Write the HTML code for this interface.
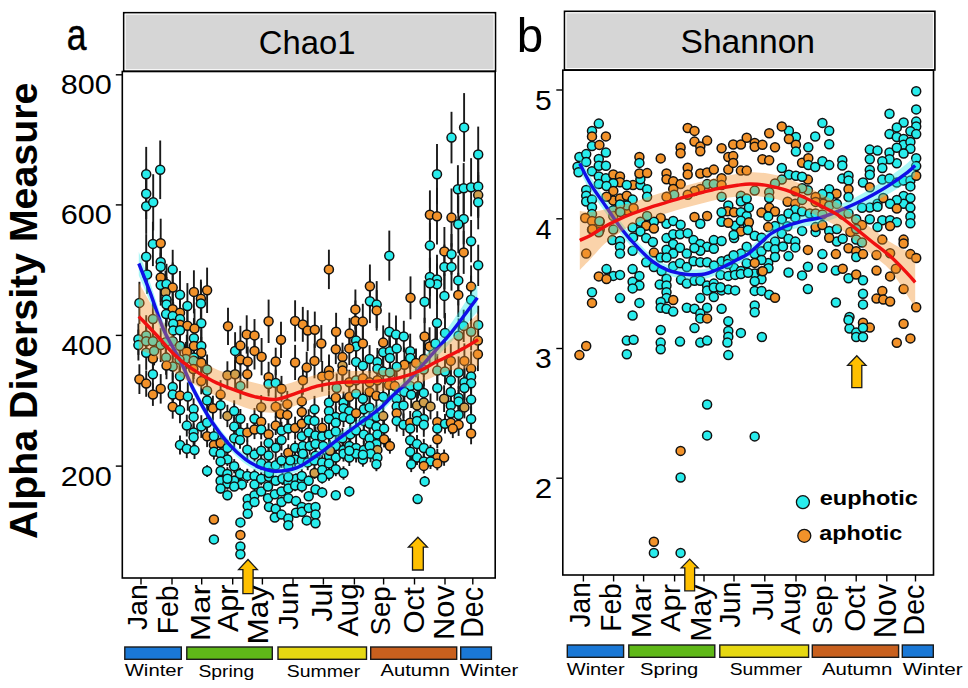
<!DOCTYPE html>
<html><head><meta charset="utf-8"><style>
html,body{margin:0;padding:0;background:#fff;}
svg{display:block;font-family:"Liberation Sans",sans-serif;}
</style></head><body>
<svg width="968" height="688" viewBox="0 0 968 688">
<rect width="968" height="688" fill="#fff"/>
<g stroke="#1a1a1a" stroke-width="1.9">
<line x1="152.9" y1="221.7" x2="152.9" y2="266.1"/>
<line x1="160.7" y1="218.7" x2="160.7" y2="267.6"/>
<line x1="146.2" y1="234.1" x2="146.2" y2="279.2"/>
<line x1="160.7" y1="238.0" x2="160.7" y2="285.8"/>
<line x1="160.7" y1="242.9" x2="160.7" y2="290.6"/>
<line x1="172.7" y1="249.8" x2="172.7" y2="289.5"/>
<line x1="147.1" y1="255.2" x2="147.1" y2="293.8"/>
<line x1="160.7" y1="252.7" x2="160.7" y2="302.1"/>
<line x1="160.7" y1="264.7" x2="160.7" y2="305.6"/>
<line x1="166.5" y1="263.8" x2="166.5" y2="304.5"/>
<line x1="172.7" y1="262.5" x2="172.7" y2="312.8"/>
<line x1="165.5" y1="270.8" x2="165.5" y2="313.8"/>
<line x1="180.0" y1="271.0" x2="180.0" y2="318.5"/>
<line x1="193.9" y1="270.3" x2="193.9" y2="313.4"/>
<line x1="207.1" y1="267.6" x2="207.1" y2="313.0"/>
<line x1="200.9" y1="279.6" x2="200.9" y2="317.7"/>
<line x1="200.9" y1="281.8" x2="200.9" y2="325.2"/>
<line x1="187.4" y1="283.1" x2="187.4" y2="328.9"/>
<line x1="139.4" y1="281.8" x2="139.4" y2="324.0"/>
<line x1="166.5" y1="276.9" x2="166.5" y2="322.3"/>
<line x1="166.5" y1="282.6" x2="166.5" y2="326.3"/>
<line x1="172.7" y1="291.6" x2="172.7" y2="327.0"/>
<line x1="180.0" y1="291.1" x2="180.0" y2="334.4"/>
<line x1="152.9" y1="298.9" x2="152.9" y2="339.0"/>
<line x1="166.1" y1="295.4" x2="166.1" y2="332.9"/>
<line x1="172.7" y1="299.0" x2="172.7" y2="333.1"/>
<line x1="180.0" y1="297.3" x2="180.0" y2="340.6"/>
<line x1="201.3" y1="304.2" x2="201.3" y2="342.2"/>
<line x1="180.0" y1="304.5" x2="180.0" y2="345.1"/>
<line x1="187.4" y1="304.6" x2="187.4" y2="346.9"/>
<line x1="194.5" y1="308.7" x2="194.5" y2="348.6"/>
<line x1="173.2" y1="302.2" x2="173.2" y2="345.3"/>
<line x1="173.2" y1="312.6" x2="173.2" y2="348.5"/>
<line x1="180.0" y1="309.9" x2="180.0" y2="350.4"/>
<line x1="228.0" y1="307.7" x2="228.0" y2="344.9"/>
<line x1="193.9" y1="318.1" x2="193.9" y2="358.5"/>
<line x1="146.2" y1="315.2" x2="146.2" y2="355.6"/>
<line x1="138.4" y1="323.6" x2="138.4" y2="354.9"/>
<line x1="138.4" y1="329.6" x2="138.4" y2="360.5"/>
<line x1="146.2" y1="325.0" x2="146.2" y2="357.4"/>
<line x1="152.9" y1="321.1" x2="152.9" y2="361.3"/>
<line x1="160.7" y1="328.1" x2="160.7" y2="362.1"/>
<line x1="172.7" y1="322.9" x2="172.7" y2="359.5"/>
<line x1="180.0" y1="329.8" x2="180.0" y2="362.2"/>
<line x1="193.9" y1="328.7" x2="193.9" y2="363.3"/>
<line x1="201.3" y1="329.4" x2="201.3" y2="362.7"/>
<line x1="201.3" y1="336.9" x2="201.3" y2="368.7"/>
<line x1="186.8" y1="334.7" x2="186.8" y2="369.0"/>
<line x1="146.2" y1="335.7" x2="146.2" y2="369.9"/>
<line x1="152.9" y1="340.5" x2="152.9" y2="376.7"/>
<line x1="166.1" y1="340.5" x2="166.1" y2="374.8"/>
<line x1="193.9" y1="339.3" x2="193.9" y2="376.0"/>
<line x1="235.1" y1="332.2" x2="235.1" y2="369.5"/>
<line x1="240.4" y1="325.8" x2="240.4" y2="365.5"/>
<line x1="246.7" y1="315.3" x2="246.7" y2="353.6"/>
<line x1="254.5" y1="319.1" x2="254.5" y2="351.7"/>
<line x1="254.5" y1="332.2" x2="254.5" y2="369.5"/>
<line x1="261.6" y1="338.0" x2="261.6" y2="375.3"/>
<line x1="268.6" y1="299.6" x2="268.6" y2="343.0"/>
<line x1="281.0" y1="321.7" x2="281.0" y2="358.0"/>
<line x1="295.1" y1="300.3" x2="295.1" y2="341.5"/>
<line x1="302.8" y1="306.9" x2="302.8" y2="341.8"/>
<line x1="307.7" y1="310.2" x2="307.7" y2="351.0"/>
<line x1="240.4" y1="343.1" x2="240.4" y2="376.0"/>
<line x1="247.7" y1="346.6" x2="247.7" y2="376.4"/>
<line x1="275.7" y1="347.7" x2="275.7" y2="375.3"/>
<line x1="295.1" y1="344.9" x2="295.1" y2="380.0"/>
<line x1="464.1" y1="93.1" x2="464.1" y2="161.7"/>
<line x1="451.5" y1="111.8" x2="451.5" y2="163.4"/>
<line x1="437.0" y1="144.1" x2="437.0" y2="204.3"/>
<line x1="478.2" y1="126.6" x2="478.2" y2="182.3"/>
<line x1="457.9" y1="165.2" x2="457.9" y2="213.3"/>
<line x1="463.7" y1="163.1" x2="463.7" y2="213.5"/>
<line x1="471.1" y1="158.2" x2="471.1" y2="216.4"/>
<line x1="478.2" y1="156.4" x2="478.2" y2="216.4"/>
<line x1="478.2" y1="172.1" x2="478.2" y2="218.0"/>
<line x1="478.2" y1="175.1" x2="478.2" y2="229.3"/>
<line x1="328.9" y1="249.7" x2="328.9" y2="289.1"/>
<line x1="389.3" y1="230.6" x2="389.3" y2="280.7"/>
<line x1="429.9" y1="190.4" x2="429.9" y2="238.9"/>
<line x1="437.0" y1="187.8" x2="437.0" y2="244.6"/>
<line x1="451.5" y1="188.5" x2="451.5" y2="246.7"/>
<line x1="463.7" y1="193.5" x2="463.7" y2="244.3"/>
<line x1="458.3" y1="195.5" x2="458.3" y2="253.2"/>
<line x1="429.9" y1="223.0" x2="429.9" y2="268.3"/>
<line x1="471.1" y1="220.0" x2="471.1" y2="262.3"/>
<line x1="444.4" y1="227.0" x2="444.4" y2="275.9"/>
<line x1="451.5" y1="234.0" x2="451.5" y2="274.6"/>
<line x1="463.7" y1="230.8" x2="463.7" y2="273.9"/>
<line x1="444.4" y1="244.6" x2="444.4" y2="289.2"/>
<line x1="451.5" y1="243.2" x2="451.5" y2="290.6"/>
<line x1="478.2" y1="244.7" x2="478.2" y2="286.0"/>
<line x1="429.9" y1="257.6" x2="429.9" y2="296.3"/>
<line x1="437.0" y1="254.7" x2="437.0" y2="304.2"/>
<line x1="437.0" y1="263.4" x2="437.0" y2="305.1"/>
<line x1="429.9" y1="258.1" x2="429.9" y2="308.5"/>
<line x1="458.3" y1="255.5" x2="458.3" y2="305.4"/>
<line x1="471.1" y1="265.4" x2="471.1" y2="307.8"/>
<line x1="369.9" y1="264.5" x2="369.9" y2="307.9"/>
<line x1="410.5" y1="276.4" x2="410.5" y2="319.3"/>
<line x1="444.4" y1="273.5" x2="444.4" y2="318.3"/>
<line x1="458.3" y1="272.8" x2="458.3" y2="317.1"/>
<line x1="424.6" y1="280.3" x2="424.6" y2="323.1"/>
<line x1="369.9" y1="279.5" x2="369.9" y2="323.1"/>
<line x1="376.7" y1="281.1" x2="376.7" y2="328.1"/>
<line x1="376.7" y1="290.1" x2="376.7" y2="330.7"/>
<line x1="355.4" y1="289.5" x2="355.4" y2="329.4"/>
<line x1="355.4" y1="300.4" x2="355.4" y2="341.7"/>
<line x1="362.8" y1="303.8" x2="362.8" y2="339.4"/>
<line x1="437.0" y1="304.9" x2="437.0" y2="341.0"/>
<line x1="471.1" y1="275.5" x2="471.1" y2="324.0"/>
<line x1="478.2" y1="305.7" x2="478.2" y2="344.1"/>
<line x1="471.1" y1="312.9" x2="471.1" y2="350.4"/>
<line x1="463.7" y1="309.7" x2="463.7" y2="342.0"/>
<line x1="314.8" y1="311.6" x2="314.8" y2="347.9"/>
<line x1="336.1" y1="312.8" x2="336.1" y2="350.6"/>
<line x1="349.6" y1="317.9" x2="349.6" y2="349.3"/>
<line x1="389.3" y1="312.6" x2="389.3" y2="350.8"/>
<line x1="396.0" y1="315.6" x2="396.0" y2="353.5"/>
<line x1="403.8" y1="320.8" x2="403.8" y2="352.2"/>
<line x1="424.6" y1="317.8" x2="424.6" y2="355.2"/>
<line x1="146.2" y1="146.9" x2="146.2" y2="201.5"/>
<line x1="160.2" y1="140.5" x2="160.2" y2="199.1"/>
<line x1="146.2" y1="168.4" x2="146.2" y2="219.2"/>
<line x1="146.2" y1="178.7" x2="146.2" y2="233.9"/>
<line x1="153.2" y1="174.2" x2="153.2" y2="230.4"/>
<line x1="172.7" y1="353.3" x2="172.7" y2="379.9"/>
<line x1="166.5" y1="352.1" x2="166.5" y2="379.2"/>
<line x1="185.8" y1="341.9" x2="185.8" y2="375.9"/>
<line x1="193.6" y1="342.6" x2="193.6" y2="379.0"/>
<line x1="201.3" y1="348.1" x2="201.3" y2="377.4"/>
<line x1="207.1" y1="354.5" x2="207.1" y2="384.6"/>
<line x1="306.7" y1="351.7" x2="306.7" y2="383.4"/>
<line x1="227.4" y1="361.3" x2="227.4" y2="389.3"/>
<line x1="235.1" y1="360.1" x2="235.1" y2="388.6"/>
<line x1="247.3" y1="360.3" x2="247.3" y2="388.3"/>
<line x1="240.4" y1="372.6" x2="240.4" y2="399.3"/>
<line x1="139.4" y1="364.3" x2="139.4" y2="394.0"/>
<line x1="146.2" y1="370.4" x2="146.2" y2="396.8"/>
<line x1="152.9" y1="360.0" x2="152.9" y2="388.6"/>
<line x1="160.7" y1="374.1" x2="160.7" y2="403.6"/>
<line x1="152.9" y1="383.4" x2="152.9" y2="405.9"/>
<line x1="172.7" y1="372.8" x2="172.7" y2="401.0"/>
<line x1="172.7" y1="380.6" x2="172.7" y2="408.7"/>
<line x1="180.0" y1="362.4" x2="180.0" y2="390.1"/>
<line x1="180.0" y1="383.7" x2="180.0" y2="407.6"/>
<line x1="187.8" y1="382.4" x2="187.8" y2="410.7"/>
<line x1="201.3" y1="368.0" x2="201.3" y2="394.3"/>
<line x1="207.1" y1="378.6" x2="207.1" y2="403.0"/>
<line x1="207.1" y1="388.1" x2="207.1" y2="412.8"/>
<line x1="268.6" y1="361.8" x2="268.6" y2="392.7"/>
<line x1="268.6" y1="371.7" x2="268.6" y2="396.4"/>
<line x1="275.7" y1="369.7" x2="275.7" y2="396.4"/>
<line x1="281.5" y1="375.9" x2="281.5" y2="401.8"/>
<line x1="220.6" y1="380.2" x2="220.6" y2="409.1"/>
<line x1="172.7" y1="395.0" x2="172.7" y2="418.7"/>
<line x1="180.0" y1="397.1" x2="180.0" y2="423.2"/>
<line x1="193.6" y1="398.4" x2="193.6" y2="419.9"/>
<line x1="193.6" y1="406.2" x2="193.6" y2="427.6"/>
<line x1="212.9" y1="395.7" x2="212.9" y2="420.7"/>
<line x1="220.6" y1="391.7" x2="220.6" y2="418.9"/>
<line x1="227.4" y1="404.8" x2="227.4" y2="427.1"/>
<line x1="234.2" y1="400.3" x2="234.2" y2="421.8"/>
<line x1="240.4" y1="409.0" x2="240.4" y2="428.6"/>
<line x1="261.2" y1="395.1" x2="261.2" y2="419.4"/>
<line x1="275.7" y1="395.9" x2="275.7" y2="417.8"/>
<line x1="287.3" y1="390.9" x2="287.3" y2="417.7"/>
<line x1="301.8" y1="387.6" x2="301.8" y2="415.2"/>
<line x1="280.6" y1="403.6" x2="280.6" y2="424.4"/>
<line x1="287.3" y1="404.3" x2="287.3" y2="425.6"/>
<line x1="301.8" y1="399.3" x2="301.8" y2="424.8"/>
<line x1="186.8" y1="414.7" x2="186.8" y2="436.5"/>
<line x1="201.3" y1="415.2" x2="201.3" y2="437.9"/>
<line x1="207.1" y1="412.5" x2="207.1" y2="432.9"/>
<line x1="193.6" y1="423.5" x2="193.6" y2="441.2"/>
<line x1="234.2" y1="416.8" x2="234.2" y2="436.3"/>
<line x1="240.4" y1="421.6" x2="240.4" y2="443.1"/>
<line x1="247.3" y1="423.1" x2="247.3" y2="441.6"/>
<line x1="254.5" y1="419.8" x2="254.5" y2="439.1"/>
<line x1="254.5" y1="408.0" x2="254.5" y2="429.6"/>
<line x1="261.2" y1="411.2" x2="261.2" y2="432.3"/>
<line x1="261.2" y1="419.6" x2="261.2" y2="439.3"/>
<line x1="268.6" y1="423.3" x2="268.6" y2="445.3"/>
<line x1="275.7" y1="416.2" x2="275.7" y2="435.0"/>
<line x1="281.5" y1="421.8" x2="281.5" y2="439.0"/>
<line x1="288.3" y1="416.9" x2="288.3" y2="440.1"/>
<line x1="295.1" y1="416.7" x2="295.1" y2="439.5"/>
<line x1="301.8" y1="411.4" x2="301.8" y2="435.9"/>
<line x1="301.8" y1="426.8" x2="301.8" y2="445.6"/>
<line x1="207.1" y1="425.3" x2="207.1" y2="447.1"/>
<line x1="193.6" y1="426.5" x2="193.6" y2="447.9"/>
<line x1="213.9" y1="427.4" x2="213.9" y2="445.0"/>
<line x1="180.0" y1="435.4" x2="180.0" y2="454.4"/>
<line x1="186.8" y1="439.4" x2="186.8" y2="458.2"/>
<line x1="194.5" y1="441.3" x2="194.5" y2="459.0"/>
<line x1="213.9" y1="436.0" x2="213.9" y2="453.8"/>
<line x1="220.6" y1="434.6" x2="220.6" y2="451.4"/>
<line x1="213.9" y1="443.8" x2="213.9" y2="459.6"/>
<line x1="220.6" y1="446.2" x2="220.6" y2="461.1"/>
<line x1="227.4" y1="452.8" x2="227.4" y2="466.1"/>
<line x1="234.2" y1="428.5" x2="234.2" y2="447.8"/>
<line x1="240.0" y1="431.4" x2="240.0" y2="448.8"/>
<line x1="247.3" y1="440.5" x2="247.3" y2="459.0"/>
<line x1="254.5" y1="447.7" x2="254.5" y2="461.5"/>
<line x1="261.2" y1="441.4" x2="261.2" y2="460.1"/>
<line x1="268.6" y1="433.5" x2="268.6" y2="452.5"/>
<line x1="268.6" y1="446.6" x2="268.6" y2="464.5"/>
<line x1="275.7" y1="438.2" x2="275.7" y2="457.4"/>
<line x1="281.5" y1="429.7" x2="281.5" y2="450.5"/>
<line x1="288.3" y1="444.3" x2="288.3" y2="461.0"/>
<line x1="295.1" y1="440.5" x2="295.1" y2="455.2"/>
<line x1="301.8" y1="441.8" x2="301.8" y2="459.7"/>
<line x1="207.1" y1="465.1" x2="207.1" y2="477.0"/>
<line x1="220.6" y1="464.8" x2="220.6" y2="477.3"/>
<line x1="227.4" y1="467.2" x2="227.4" y2="480.6"/>
<line x1="234.2" y1="459.1" x2="234.2" y2="473.3"/>
<line x1="240.0" y1="467.7" x2="240.0" y2="480.1"/>
<line x1="247.3" y1="468.8" x2="247.3" y2="482.9"/>
<line x1="254.5" y1="469.4" x2="254.5" y2="482.3"/>
<line x1="261.2" y1="456.4" x2="261.2" y2="470.2"/>
<line x1="268.6" y1="459.7" x2="268.6" y2="472.7"/>
<line x1="275.7" y1="457.3" x2="275.7" y2="473.1"/>
<line x1="281.5" y1="452.9" x2="281.5" y2="467.9"/>
<line x1="288.3" y1="458.6" x2="288.3" y2="473.8"/>
<line x1="295.1" y1="452.2" x2="295.1" y2="466.7"/>
<line x1="301.8" y1="453.6" x2="301.8" y2="467.2"/>
<line x1="220.6" y1="474.8" x2="220.6" y2="486.6"/>
<line x1="227.4" y1="477.5" x2="227.4" y2="489.7"/>
<line x1="234.2" y1="475.5" x2="234.2" y2="485.9"/>
<line x1="241.9" y1="478.6" x2="241.9" y2="490.5"/>
<line x1="254.5" y1="478.4" x2="254.5" y2="490.7"/>
<line x1="261.2" y1="472.3" x2="261.2" y2="485.3"/>
<line x1="269.0" y1="470.1" x2="269.0" y2="483.6"/>
<line x1="275.7" y1="475.8" x2="275.7" y2="485.6"/>
<line x1="282.5" y1="472.6" x2="282.5" y2="485.0"/>
<line x1="288.3" y1="476.4" x2="288.3" y2="488.9"/>
<line x1="296.0" y1="473.6" x2="296.0" y2="483.9"/>
<line x1="301.8" y1="475.3" x2="301.8" y2="486.1"/>
<line x1="227.4" y1="439.9" x2="227.4" y2="455.9"/>
<line x1="220.6" y1="453.9" x2="220.6" y2="468.9"/>
<line x1="227.4" y1="473.0" x2="227.4" y2="484.7"/>
<line x1="220.6" y1="483.4" x2="220.6" y2="493.6"/>
<line x1="227.4" y1="490.3" x2="227.4" y2="500.2"/>
<line x1="234.2" y1="482.1" x2="234.2" y2="491.1"/>
<line x1="247.7" y1="495.5" x2="247.7" y2="502.8"/>
<line x1="254.5" y1="491.2" x2="254.5" y2="499.3"/>
<line x1="261.2" y1="487.1" x2="261.2" y2="495.8"/>
<line x1="268.0" y1="482.0" x2="268.0" y2="491.2"/>
<line x1="247.7" y1="501.7" x2="247.7" y2="510.1"/>
<line x1="247.7" y1="510.3" x2="247.7" y2="517.0"/>
<line x1="254.5" y1="498.6" x2="254.5" y2="505.5"/>
<line x1="268.0" y1="493.9" x2="268.0" y2="502.5"/>
<line x1="274.8" y1="489.9" x2="274.8" y2="498.7"/>
<line x1="281.5" y1="486.8" x2="281.5" y2="496.0"/>
<line x1="288.3" y1="483.6" x2="288.3" y2="493.4"/>
<line x1="295.1" y1="480.0" x2="295.1" y2="491.2"/>
<line x1="269.0" y1="503.2" x2="269.0" y2="510.6"/>
<line x1="275.7" y1="505.5" x2="275.7" y2="512.1"/>
<line x1="281.5" y1="498.4" x2="281.5" y2="505.7"/>
<line x1="288.3" y1="494.1" x2="288.3" y2="502.3"/>
<line x1="296.0" y1="497.5" x2="296.0" y2="504.7"/>
<line x1="301.8" y1="503.2" x2="301.8" y2="510.5"/>
<line x1="269.0" y1="466.0" x2="269.0" y2="480.0"/>
<line x1="288.3" y1="471.0" x2="288.3" y2="482.8"/>
<line x1="301.8" y1="469.2" x2="301.8" y2="482.7"/>
<line x1="290.2" y1="452.7" x2="290.2" y2="468.3"/>
<line x1="356.1" y1="323.1" x2="356.1" y2="358.1"/>
<line x1="356.1" y1="330.5" x2="356.1" y2="362.3"/>
<line x1="362.9" y1="325.9" x2="362.9" y2="361.2"/>
<line x1="321.3" y1="325.1" x2="321.3" y2="362.0"/>
<line x1="335.8" y1="334.6" x2="335.8" y2="364.1"/>
<line x1="349.3" y1="331.7" x2="349.3" y2="365.0"/>
<line x1="383.2" y1="325.4" x2="383.2" y2="359.7"/>
<line x1="429.6" y1="327.3" x2="429.6" y2="365.6"/>
<line x1="435.4" y1="323.8" x2="435.4" y2="363.3"/>
<line x1="458.6" y1="318.4" x2="458.6" y2="353.2"/>
<line x1="477.9" y1="320.8" x2="477.9" y2="360.5"/>
<line x1="445.0" y1="312.9" x2="445.0" y2="352.9"/>
<line x1="383.2" y1="336.7" x2="383.2" y2="367.8"/>
<line x1="389.9" y1="334.7" x2="389.9" y2="367.9"/>
<line x1="396.7" y1="333.3" x2="396.7" y2="363.5"/>
<line x1="389.9" y1="340.3" x2="389.9" y2="375.8"/>
<line x1="410.2" y1="333.7" x2="410.2" y2="368.9"/>
<line x1="410.2" y1="339.9" x2="410.2" y2="376.2"/>
<line x1="314.5" y1="343.6" x2="314.5" y2="378.3"/>
<line x1="322.2" y1="361.0" x2="322.2" y2="391.8"/>
<line x1="329.0" y1="354.4" x2="329.0" y2="386.8"/>
<line x1="329.0" y1="360.4" x2="329.0" y2="390.5"/>
<line x1="342.5" y1="342.7" x2="342.5" y2="371.4"/>
<line x1="342.5" y1="349.8" x2="342.5" y2="381.8"/>
<line x1="342.5" y1="357.7" x2="342.5" y2="383.5"/>
<line x1="356.1" y1="347.7" x2="356.1" y2="376.1"/>
<line x1="362.9" y1="348.9" x2="362.9" y2="382.6"/>
<line x1="369.6" y1="345.1" x2="369.6" y2="372.9"/>
<line x1="377.4" y1="348.0" x2="377.4" y2="375.9"/>
<line x1="377.4" y1="355.2" x2="377.4" y2="382.2"/>
<line x1="404.4" y1="347.4" x2="404.4" y2="382.2"/>
<line x1="416.0" y1="348.6" x2="416.0" y2="377.2"/>
<line x1="396.7" y1="353.5" x2="396.7" y2="380.0"/>
<line x1="383.2" y1="355.0" x2="383.2" y2="388.2"/>
<line x1="389.9" y1="359.3" x2="389.9" y2="385.8"/>
<line x1="423.8" y1="341.2" x2="423.8" y2="376.8"/>
<line x1="450.8" y1="344.1" x2="450.8" y2="377.8"/>
<line x1="464.4" y1="343.4" x2="464.4" y2="378.5"/>
<line x1="471.1" y1="351.3" x2="471.1" y2="386.1"/>
<line x1="477.9" y1="337.2" x2="477.9" y2="371.1"/>
<line x1="437.3" y1="354.1" x2="437.3" y2="387.1"/>
<line x1="445.0" y1="358.6" x2="445.0" y2="384.6"/>
<line x1="423.8" y1="353.2" x2="423.8" y2="386.1"/>
<line x1="302.9" y1="365.9" x2="302.9" y2="394.7"/>
<line x1="336.7" y1="373.5" x2="336.7" y2="402.6"/>
<line x1="349.3" y1="369.7" x2="349.3" y2="394.7"/>
<line x1="356.1" y1="364.9" x2="356.1" y2="395.7"/>
<line x1="362.9" y1="362.0" x2="362.9" y2="394.7"/>
<line x1="369.6" y1="369.9" x2="369.6" y2="394.5"/>
<line x1="377.4" y1="366.7" x2="377.4" y2="393.9"/>
<line x1="389.0" y1="370.9" x2="389.0" y2="399.3"/>
<line x1="394.8" y1="370.9" x2="394.8" y2="401.3"/>
<line x1="410.2" y1="373.3" x2="410.2" y2="398.9"/>
<line x1="418.0" y1="373.6" x2="418.0" y2="398.6"/>
<line x1="437.3" y1="375.4" x2="437.3" y2="400.7"/>
<line x1="450.8" y1="365.4" x2="450.8" y2="395.1"/>
<line x1="458.6" y1="356.4" x2="458.6" y2="388.7"/>
<line x1="464.4" y1="368.5" x2="464.4" y2="395.9"/>
<line x1="471.1" y1="362.3" x2="471.1" y2="390.5"/>
<line x1="471.1" y1="369.5" x2="471.1" y2="396.8"/>
<line x1="329.0" y1="390.6" x2="329.0" y2="414.4"/>
<line x1="335.8" y1="385.1" x2="335.8" y2="410.2"/>
<line x1="343.5" y1="391.6" x2="343.5" y2="413.4"/>
<line x1="349.3" y1="383.8" x2="349.3" y2="409.7"/>
<line x1="356.1" y1="378.8" x2="356.1" y2="408.9"/>
<line x1="362.9" y1="386.2" x2="362.9" y2="411.1"/>
<line x1="369.6" y1="377.5" x2="369.6" y2="406.2"/>
<line x1="376.4" y1="384.1" x2="376.4" y2="407.4"/>
<line x1="383.2" y1="383.0" x2="383.2" y2="410.4"/>
<line x1="396.7" y1="384.9" x2="396.7" y2="412.4"/>
<line x1="404.4" y1="377.8" x2="404.4" y2="405.9"/>
<line x1="411.2" y1="381.6" x2="411.2" y2="408.0"/>
<line x1="423.8" y1="379.6" x2="423.8" y2="406.1"/>
<line x1="444.1" y1="385.3" x2="444.1" y2="412.0"/>
<line x1="450.8" y1="376.9" x2="450.8" y2="406.8"/>
<line x1="458.6" y1="386.2" x2="458.6" y2="409.2"/>
<line x1="464.4" y1="376.0" x2="464.4" y2="400.0"/>
<line x1="471.1" y1="386.0" x2="471.1" y2="413.3"/>
<line x1="314.5" y1="395.9" x2="314.5" y2="422.6"/>
<line x1="329.0" y1="399.5" x2="329.0" y2="423.0"/>
<line x1="335.8" y1="406.0" x2="335.8" y2="428.0"/>
<line x1="343.5" y1="395.6" x2="343.5" y2="421.1"/>
<line x1="349.3" y1="400.6" x2="349.3" y2="421.8"/>
<line x1="363.8" y1="398.2" x2="363.8" y2="420.3"/>
<line x1="369.6" y1="396.4" x2="369.6" y2="418.3"/>
<line x1="376.4" y1="405.5" x2="376.4" y2="428.5"/>
<line x1="383.2" y1="405.4" x2="383.2" y2="426.7"/>
<line x1="396.7" y1="395.2" x2="396.7" y2="417.5"/>
<line x1="403.5" y1="392.5" x2="403.5" y2="418.3"/>
<line x1="417.0" y1="391.6" x2="417.0" y2="419.3"/>
<line x1="423.8" y1="390.8" x2="423.8" y2="414.2"/>
<line x1="430.5" y1="393.5" x2="430.5" y2="419.3"/>
<line x1="417.0" y1="404.0" x2="417.0" y2="426.2"/>
<line x1="423.8" y1="406.7" x2="423.8" y2="431.2"/>
<line x1="450.8" y1="392.9" x2="450.8" y2="417.9"/>
<line x1="458.6" y1="389.9" x2="458.6" y2="413.2"/>
<line x1="464.4" y1="396.3" x2="464.4" y2="418.4"/>
<line x1="450.8" y1="403.3" x2="450.8" y2="423.0"/>
<line x1="458.6" y1="403.8" x2="458.6" y2="426.4"/>
<line x1="308.7" y1="409.3" x2="308.7" y2="430.5"/>
<line x1="314.5" y1="411.1" x2="314.5" y2="430.7"/>
<line x1="322.2" y1="417.8" x2="322.2" y2="437.5"/>
<line x1="329.0" y1="408.5" x2="329.0" y2="429.4"/>
<line x1="335.8" y1="411.2" x2="335.8" y2="434.4"/>
<line x1="343.5" y1="407.0" x2="343.5" y2="427.0"/>
<line x1="350.3" y1="406.3" x2="350.3" y2="431.6"/>
<line x1="356.1" y1="401.7" x2="356.1" y2="424.6"/>
<line x1="363.8" y1="409.7" x2="363.8" y2="432.1"/>
<line x1="369.6" y1="413.3" x2="369.6" y2="434.3"/>
<line x1="376.4" y1="415.3" x2="376.4" y2="438.1"/>
<line x1="384.1" y1="417.4" x2="384.1" y2="439.8"/>
<line x1="396.7" y1="401.4" x2="396.7" y2="424.9"/>
<line x1="396.7" y1="410.1" x2="396.7" y2="431.7"/>
<line x1="403.5" y1="413.5" x2="403.5" y2="436.0"/>
<line x1="410.2" y1="411.0" x2="410.2" y2="434.7"/>
<line x1="410.2" y1="418.7" x2="410.2" y2="438.5"/>
<line x1="417.0" y1="409.2" x2="417.0" y2="432.5"/>
<line x1="423.8" y1="412.7" x2="423.8" y2="436.8"/>
<line x1="437.3" y1="411.2" x2="437.3" y2="432.6"/>
<line x1="437.3" y1="419.2" x2="437.3" y2="438.0"/>
<line x1="445.0" y1="414.0" x2="445.0" y2="433.6"/>
<line x1="450.8" y1="411.4" x2="450.8" y2="434.2"/>
<line x1="458.6" y1="413.6" x2="458.6" y2="435.9"/>
<line x1="471.1" y1="406.4" x2="471.1" y2="431.5"/>
<line x1="471.1" y1="422.6" x2="471.1" y2="444.3"/>
<line x1="452.8" y1="419.2" x2="452.8" y2="438.1"/>
<line x1="308.7" y1="423.5" x2="308.7" y2="441.5"/>
<line x1="315.5" y1="426.4" x2="315.5" y2="444.3"/>
<line x1="322.2" y1="427.7" x2="322.2" y2="445.0"/>
<line x1="329.0" y1="424.1" x2="329.0" y2="444.8"/>
<line x1="335.8" y1="420.5" x2="335.8" y2="442.6"/>
<line x1="342.5" y1="427.8" x2="342.5" y2="448.8"/>
<line x1="350.3" y1="425.4" x2="350.3" y2="443.4"/>
<line x1="356.1" y1="419.4" x2="356.1" y2="441.7"/>
<line x1="363.8" y1="425.2" x2="363.8" y2="443.6"/>
<line x1="369.6" y1="429.1" x2="369.6" y2="447.5"/>
<line x1="377.4" y1="424.0" x2="377.4" y2="444.8"/>
<line x1="384.1" y1="431.1" x2="384.1" y2="447.4"/>
<line x1="389.9" y1="438.4" x2="389.9" y2="453.7"/>
<line x1="376.4" y1="434.3" x2="376.4" y2="453.9"/>
<line x1="377.4" y1="442.0" x2="377.4" y2="457.8"/>
<line x1="410.2" y1="431.4" x2="410.2" y2="449.1"/>
<line x1="417.0" y1="435.0" x2="417.0" y2="453.2"/>
<line x1="423.8" y1="438.9" x2="423.8" y2="457.0"/>
<line x1="430.5" y1="444.8" x2="430.5" y2="458.9"/>
<line x1="437.3" y1="430.4" x2="437.3" y2="448.1"/>
<line x1="302.9" y1="437.5" x2="302.9" y2="454.6"/>
<line x1="309.7" y1="437.3" x2="309.7" y2="454.7"/>
<line x1="315.5" y1="436.0" x2="315.5" y2="452.2"/>
<line x1="323.2" y1="437.1" x2="323.2" y2="455.0"/>
<line x1="330.0" y1="440.3" x2="330.0" y2="459.5"/>
<line x1="335.8" y1="437.6" x2="335.8" y2="454.5"/>
<line x1="343.5" y1="441.4" x2="343.5" y2="458.4"/>
<line x1="349.3" y1="438.3" x2="349.3" y2="453.8"/>
<line x1="356.1" y1="440.0" x2="356.1" y2="456.0"/>
<line x1="363.8" y1="441.1" x2="363.8" y2="458.7"/>
<line x1="369.6" y1="438.3" x2="369.6" y2="453.8"/>
<line x1="302.9" y1="444.7" x2="302.9" y2="462.8"/>
<line x1="315.5" y1="446.8" x2="315.5" y2="464.6"/>
<line x1="329.0" y1="448.7" x2="329.0" y2="462.7"/>
<line x1="335.8" y1="448.8" x2="335.8" y2="466.4"/>
<line x1="343.5" y1="446.0" x2="343.5" y2="461.6"/>
<line x1="349.3" y1="449.2" x2="349.3" y2="466.0"/>
<line x1="356.1" y1="445.1" x2="356.1" y2="462.5"/>
<line x1="362.9" y1="452.4" x2="362.9" y2="466.7"/>
<line x1="370.6" y1="445.3" x2="370.6" y2="462.3"/>
<line x1="377.4" y1="449.5" x2="377.4" y2="465.8"/>
<line x1="410.2" y1="442.8" x2="410.2" y2="460.8"/>
<line x1="417.0" y1="450.4" x2="417.0" y2="464.9"/>
<line x1="423.8" y1="453.5" x2="423.8" y2="469.5"/>
<line x1="437.3" y1="448.8" x2="437.3" y2="466.5"/>
<line x1="444.1" y1="449.5" x2="444.1" y2="465.8"/>
<line x1="330.0" y1="442.4" x2="330.0" y2="459.2"/>
<line x1="349.3" y1="443.4" x2="349.3" y2="458.2"/>
<line x1="362.9" y1="446.7" x2="362.9" y2="462.7"/>
<line x1="376.4" y1="457.5" x2="376.4" y2="471.2"/>
<line x1="307.7" y1="454.6" x2="307.7" y2="470.2"/>
<line x1="314.5" y1="452.5" x2="314.5" y2="468.4"/>
<line x1="322.2" y1="454.9" x2="322.2" y2="469.9"/>
<line x1="329.0" y1="456.8" x2="329.0" y2="470.0"/>
<line x1="335.8" y1="462.1" x2="335.8" y2="476.2"/>
<line x1="343.5" y1="466.3" x2="343.5" y2="479.7"/>
<line x1="314.5" y1="467.2" x2="314.5" y2="478.9"/>
<line x1="322.2" y1="462.7" x2="322.2" y2="477.6"/>
<line x1="329.0" y1="467.3" x2="329.0" y2="480.7"/>
<line x1="308.7" y1="475.6" x2="308.7" y2="485.9"/>
<line x1="301.9" y1="480.6" x2="301.9" y2="492.6"/>
<line x1="315.5" y1="485.0" x2="315.5" y2="494.0"/>
<line x1="322.2" y1="472.1" x2="322.2" y2="483.6"/>
<line x1="322.2" y1="487.3" x2="322.2" y2="497.5"/>
<line x1="335.8" y1="490.6" x2="335.8" y2="500.0"/>
<line x1="349.3" y1="486.4" x2="349.3" y2="496.4"/>
<line x1="308.7" y1="491.6" x2="308.7" y2="500.9"/>
<line x1="301.9" y1="508.6" x2="301.9" y2="514.8"/>
<line x1="308.7" y1="504.6" x2="308.7" y2="511.1"/>
<line x1="315.5" y1="503.7" x2="315.5" y2="510.1"/>
<line x1="411.2" y1="456.6" x2="411.2" y2="472.1"/>
<line x1="430.5" y1="453.9" x2="430.5" y2="469.0"/>
<line x1="423.8" y1="458.3" x2="423.8" y2="473.5"/>
<line x1="437.3" y1="456.4" x2="437.3" y2="470.3"/>
<line x1="424.7" y1="476.0" x2="424.7" y2="486.7"/>
<line x1="417.6" y1="495.1" x2="417.6" y2="503.2"/>
<line x1="165.7" y1="322.6" x2="165.7" y2="361.7"/>
<line x1="154.1" y1="336.3" x2="154.1" y2="365.4"/>
<line x1="179.5" y1="343.5" x2="179.5" y2="375.7"/>
<line x1="193.3" y1="354.9" x2="193.3" y2="383.2"/>
</g>
<g stroke="#111" stroke-width="1.5">
<circle cx="152.9" cy="243.9" r="4.5" fill="#28ecec"/>
<circle cx="160.7" cy="243.2" r="4.5" fill="#f2922a"/>
<circle cx="146.2" cy="256.7" r="4.5" fill="#28ecec"/>
<circle cx="160.7" cy="261.9" r="4.5" fill="#28ecec"/>
<circle cx="160.7" cy="266.7" r="4.5" fill="#28ecec"/>
<circle cx="172.7" cy="269.6" r="4.5" fill="#28ecec"/>
<circle cx="147.1" cy="274.5" r="4.5" fill="#28ecec"/>
<circle cx="160.7" cy="277.4" r="4.5" fill="#f2922a"/>
<circle cx="160.7" cy="285.1" r="4.5" fill="#28ecec"/>
<circle cx="166.5" cy="284.1" r="4.5" fill="#28ecec"/>
<circle cx="172.7" cy="287.6" r="4.5" fill="#f2922a"/>
<circle cx="165.5" cy="292.3" r="4.5" fill="#d0a04c"/>
<circle cx="180.0" cy="294.8" r="4.5" fill="#28ecec"/>
<circle cx="193.9" cy="291.9" r="4.5" fill="#f2922a"/>
<circle cx="207.1" cy="290.3" r="4.5" fill="#f2922a"/>
<circle cx="200.9" cy="298.7" r="4.5" fill="#f2922a"/>
<circle cx="200.9" cy="303.5" r="4.5" fill="#28ecec"/>
<circle cx="187.4" cy="306.0" r="4.5" fill="#28ecec"/>
<circle cx="139.4" cy="302.9" r="4.5" fill="#28ecec"/>
<circle cx="166.5" cy="299.6" r="4.5" fill="#28ecec"/>
<circle cx="166.5" cy="304.5" r="4.5" fill="#28ecec"/>
<circle cx="172.7" cy="309.3" r="4.5" fill="#f2922a"/>
<circle cx="180.0" cy="312.8" r="4.5" fill="#f2922a"/>
<circle cx="152.9" cy="319.0" r="4.5" fill="#28ecec"/>
<circle cx="166.1" cy="314.1" r="4.5" fill="#28ecec"/>
<circle cx="172.7" cy="316.1" r="4.5" fill="#28ecec"/>
<circle cx="180.0" cy="319.0" r="4.5" fill="#28ecec"/>
<circle cx="201.3" cy="323.2" r="4.5" fill="#28ecec"/>
<circle cx="180.0" cy="324.8" r="4.5" fill="#f2922a"/>
<circle cx="187.4" cy="325.7" r="4.5" fill="#f2922a"/>
<circle cx="194.5" cy="328.6" r="4.5" fill="#f2922a"/>
<circle cx="173.2" cy="323.8" r="4.5" fill="#28ecec"/>
<circle cx="173.2" cy="330.6" r="4.5" fill="#28ecec"/>
<circle cx="180.0" cy="330.2" r="4.5" fill="#28ecec"/>
<circle cx="228.0" cy="326.3" r="4.5" fill="#f2922a"/>
<circle cx="193.9" cy="338.3" r="4.5" fill="#28ecec"/>
<circle cx="146.2" cy="335.4" r="4.5" fill="#28ecec"/>
<circle cx="138.4" cy="339.3" r="4.5" fill="#28ecec"/>
<circle cx="138.4" cy="345.1" r="4.5" fill="#28ecec"/>
<circle cx="146.2" cy="341.2" r="4.5" fill="#28ecec"/>
<circle cx="152.9" cy="341.2" r="4.5" fill="#28ecec"/>
<circle cx="160.7" cy="345.1" r="4.5" fill="#28ecec"/>
<circle cx="172.7" cy="341.2" r="4.5" fill="#28ecec"/>
<circle cx="180.0" cy="346.0" r="4.5" fill="#28ecec"/>
<circle cx="193.9" cy="346.0" r="4.5" fill="#f2922a"/>
<circle cx="201.3" cy="346.0" r="4.5" fill="#28ecec"/>
<circle cx="201.3" cy="352.8" r="4.5" fill="#f2922a"/>
<circle cx="186.8" cy="351.8" r="4.5" fill="#f2922a"/>
<circle cx="146.2" cy="352.8" r="4.5" fill="#28ecec"/>
<circle cx="152.9" cy="358.6" r="4.5" fill="#f2922a"/>
<circle cx="166.1" cy="357.6" r="4.5" fill="#28ecec"/>
<circle cx="193.9" cy="357.6" r="4.5" fill="#28ecec"/>
<circle cx="235.1" cy="350.9" r="4.5" fill="#28ecec"/>
<circle cx="240.4" cy="345.6" r="4.5" fill="#f2922a"/>
<circle cx="246.7" cy="334.4" r="4.5" fill="#f2922a"/>
<circle cx="254.5" cy="335.4" r="4.5" fill="#f2922a"/>
<circle cx="254.5" cy="350.9" r="4.5" fill="#f2922a"/>
<circle cx="261.6" cy="356.7" r="4.5" fill="#f2922a"/>
<circle cx="268.6" cy="321.3" r="4.5" fill="#f2922a"/>
<circle cx="281.0" cy="339.8" r="4.5" fill="#f2922a"/>
<circle cx="295.1" cy="320.9" r="4.5" fill="#f2922a"/>
<circle cx="302.8" cy="324.4" r="4.5" fill="#f2922a"/>
<circle cx="307.7" cy="330.6" r="4.5" fill="#f2922a"/>
<circle cx="240.4" cy="359.6" r="4.5" fill="#f2922a"/>
<circle cx="247.7" cy="361.5" r="4.5" fill="#f2922a"/>
<circle cx="275.7" cy="361.5" r="4.5" fill="#f2922a"/>
<circle cx="295.1" cy="362.5" r="4.5" fill="#f2922a"/>
<circle cx="464.1" cy="127.4" r="4.5" fill="#28ecec"/>
<circle cx="451.5" cy="137.6" r="4.5" fill="#28ecec"/>
<circle cx="437.0" cy="174.2" r="4.5" fill="#28ecec"/>
<circle cx="478.2" cy="154.5" r="4.5" fill="#28ecec"/>
<circle cx="457.9" cy="189.3" r="4.5" fill="#28ecec"/>
<circle cx="463.7" cy="188.3" r="4.5" fill="#28ecec"/>
<circle cx="471.1" cy="187.3" r="4.5" fill="#28ecec"/>
<circle cx="478.2" cy="186.4" r="4.5" fill="#28ecec"/>
<circle cx="478.2" cy="195.1" r="4.5" fill="#d0a04c"/>
<circle cx="478.2" cy="202.2" r="4.5" fill="#28ecec"/>
<circle cx="328.9" cy="269.4" r="4.5" fill="#f2922a"/>
<circle cx="389.3" cy="255.7" r="4.5" fill="#28ecec"/>
<circle cx="429.9" cy="214.7" r="4.5" fill="#f2922a"/>
<circle cx="437.0" cy="216.2" r="4.5" fill="#f2922a"/>
<circle cx="451.5" cy="217.6" r="4.5" fill="#f2922a"/>
<circle cx="463.7" cy="218.9" r="4.5" fill="#28ecec"/>
<circle cx="458.3" cy="224.3" r="4.5" fill="#28ecec"/>
<circle cx="429.9" cy="245.6" r="4.5" fill="#28ecec"/>
<circle cx="471.1" cy="241.2" r="4.5" fill="#28ecec"/>
<circle cx="444.4" cy="251.4" r="4.5" fill="#f2922a"/>
<circle cx="451.5" cy="254.3" r="4.5" fill="#28ecec"/>
<circle cx="463.7" cy="252.4" r="4.5" fill="#f2922a"/>
<circle cx="444.4" cy="266.9" r="4.5" fill="#28ecec"/>
<circle cx="451.5" cy="266.9" r="4.5" fill="#28ecec"/>
<circle cx="478.2" cy="265.3" r="4.5" fill="#28ecec"/>
<circle cx="429.9" cy="276.9" r="4.5" fill="#28ecec"/>
<circle cx="437.0" cy="279.5" r="4.5" fill="#28ecec"/>
<circle cx="437.0" cy="284.3" r="4.5" fill="#28ecec"/>
<circle cx="429.9" cy="283.3" r="4.5" fill="#28ecec"/>
<circle cx="458.3" cy="280.4" r="4.5" fill="#28ecec"/>
<circle cx="471.1" cy="286.6" r="4.5" fill="#f2922a"/>
<circle cx="369.9" cy="286.2" r="4.5" fill="#f2922a"/>
<circle cx="410.5" cy="297.8" r="4.5" fill="#f2922a"/>
<circle cx="444.4" cy="295.9" r="4.5" fill="#28ecec"/>
<circle cx="458.3" cy="294.9" r="4.5" fill="#f2922a"/>
<circle cx="424.6" cy="301.7" r="4.5" fill="#28ecec"/>
<circle cx="369.9" cy="301.3" r="4.5" fill="#28ecec"/>
<circle cx="376.7" cy="304.6" r="4.5" fill="#28ecec"/>
<circle cx="376.7" cy="310.4" r="4.5" fill="#f2922a"/>
<circle cx="355.4" cy="309.4" r="4.5" fill="#f2922a"/>
<circle cx="355.4" cy="321.0" r="4.5" fill="#f2922a"/>
<circle cx="362.8" cy="321.6" r="4.5" fill="#f2922a"/>
<circle cx="437.0" cy="323.0" r="4.5" fill="#28ecec"/>
<circle cx="471.1" cy="299.8" r="4.5" fill="#28ecec"/>
<circle cx="478.2" cy="324.9" r="4.5" fill="#28ecec"/>
<circle cx="471.1" cy="331.7" r="4.5" fill="#28ecec"/>
<circle cx="463.7" cy="325.9" r="4.5" fill="#28ecec"/>
<circle cx="314.8" cy="329.7" r="4.5" fill="#f2922a"/>
<circle cx="336.1" cy="331.7" r="4.5" fill="#f2922a"/>
<circle cx="349.6" cy="333.6" r="4.5" fill="#f2922a"/>
<circle cx="389.3" cy="331.7" r="4.5" fill="#28ecec"/>
<circle cx="396.0" cy="334.6" r="4.5" fill="#28ecec"/>
<circle cx="403.8" cy="336.5" r="4.5" fill="#28ecec"/>
<circle cx="424.6" cy="336.5" r="4.5" fill="#f2922a"/>
<circle cx="146.2" cy="174.2" r="4.5" fill="#28ecec"/>
<circle cx="160.2" cy="169.8" r="4.5" fill="#28ecec"/>
<circle cx="146.2" cy="193.8" r="4.5" fill="#28ecec"/>
<circle cx="146.2" cy="206.3" r="4.5" fill="#28ecec"/>
<circle cx="153.2" cy="202.3" r="4.5" fill="#28ecec"/>
<circle cx="172.7" cy="366.6" r="4.5" fill="#28ecec"/>
<circle cx="166.5" cy="365.6" r="4.5" fill="#f2922a"/>
<circle cx="185.8" cy="358.9" r="4.5" fill="#28ecec"/>
<circle cx="193.6" cy="360.8" r="4.5" fill="#28ecec"/>
<circle cx="201.3" cy="362.7" r="4.5" fill="#f2922a"/>
<circle cx="207.1" cy="369.5" r="4.5" fill="#28ecec"/>
<circle cx="306.7" cy="367.6" r="4.5" fill="#f2922a"/>
<circle cx="227.4" cy="375.3" r="4.5" fill="#d0a04c"/>
<circle cx="235.1" cy="374.3" r="4.5" fill="#d0a04c"/>
<circle cx="247.3" cy="374.3" r="4.5" fill="#f2922a"/>
<circle cx="240.4" cy="385.9" r="4.5" fill="#28ecec"/>
<circle cx="139.4" cy="379.2" r="4.5" fill="#f2922a"/>
<circle cx="146.2" cy="383.6" r="4.5" fill="#f2922a"/>
<circle cx="152.9" cy="374.3" r="4.5" fill="#28ecec"/>
<circle cx="160.7" cy="388.8" r="4.5" fill="#f2922a"/>
<circle cx="152.9" cy="394.6" r="4.5" fill="#f2922a"/>
<circle cx="172.7" cy="386.9" r="4.5" fill="#28ecec"/>
<circle cx="172.7" cy="394.6" r="4.5" fill="#28ecec"/>
<circle cx="180.0" cy="376.3" r="4.5" fill="#28ecec"/>
<circle cx="180.0" cy="395.6" r="4.5" fill="#f2922a"/>
<circle cx="187.8" cy="396.6" r="4.5" fill="#28ecec"/>
<circle cx="201.3" cy="381.1" r="4.5" fill="#f2922a"/>
<circle cx="207.1" cy="390.8" r="4.5" fill="#28ecec"/>
<circle cx="207.1" cy="400.4" r="4.5" fill="#28ecec"/>
<circle cx="268.6" cy="377.2" r="4.5" fill="#f2922a"/>
<circle cx="268.6" cy="384.0" r="4.5" fill="#28ecec"/>
<circle cx="275.7" cy="383.0" r="4.5" fill="#28ecec"/>
<circle cx="281.5" cy="388.8" r="4.5" fill="#f2922a"/>
<circle cx="220.6" cy="394.6" r="4.5" fill="#f2922a"/>
<circle cx="172.7" cy="406.8" r="4.5" fill="#f2922a"/>
<circle cx="180.0" cy="410.1" r="4.5" fill="#28ecec"/>
<circle cx="193.6" cy="409.1" r="4.5" fill="#28ecec"/>
<circle cx="193.6" cy="416.9" r="4.5" fill="#28ecec"/>
<circle cx="212.9" cy="408.2" r="4.5" fill="#f2922a"/>
<circle cx="220.6" cy="405.3" r="4.5" fill="#28ecec"/>
<circle cx="227.4" cy="415.9" r="4.5" fill="#d0a04c"/>
<circle cx="234.2" cy="411.1" r="4.5" fill="#28ecec"/>
<circle cx="240.4" cy="418.8" r="4.5" fill="#28ecec"/>
<circle cx="261.2" cy="407.2" r="4.5" fill="#d0a04c"/>
<circle cx="275.7" cy="406.8" r="4.5" fill="#f2922a"/>
<circle cx="287.3" cy="404.3" r="4.5" fill="#f2922a"/>
<circle cx="301.8" cy="401.4" r="4.5" fill="#f2922a"/>
<circle cx="280.6" cy="414.0" r="4.5" fill="#f2922a"/>
<circle cx="287.3" cy="414.9" r="4.5" fill="#f2922a"/>
<circle cx="301.8" cy="412.0" r="4.5" fill="#f2922a"/>
<circle cx="186.8" cy="425.6" r="4.5" fill="#28ecec"/>
<circle cx="201.3" cy="426.6" r="4.5" fill="#28ecec"/>
<circle cx="207.1" cy="422.7" r="4.5" fill="#28ecec"/>
<circle cx="193.6" cy="432.4" r="4.5" fill="#28ecec"/>
<circle cx="234.2" cy="426.6" r="4.5" fill="#28ecec"/>
<circle cx="240.4" cy="432.4" r="4.5" fill="#28ecec"/>
<circle cx="247.3" cy="432.4" r="4.5" fill="#f2922a"/>
<circle cx="254.5" cy="429.5" r="4.5" fill="#f2922a"/>
<circle cx="254.5" cy="418.8" r="4.5" fill="#28ecec"/>
<circle cx="261.2" cy="421.7" r="4.5" fill="#f2922a"/>
<circle cx="261.2" cy="429.5" r="4.5" fill="#28ecec"/>
<circle cx="268.6" cy="434.3" r="4.5" fill="#f2922a"/>
<circle cx="275.7" cy="425.6" r="4.5" fill="#f2922a"/>
<circle cx="281.5" cy="430.4" r="4.5" fill="#28ecec"/>
<circle cx="288.3" cy="428.5" r="4.5" fill="#28ecec"/>
<circle cx="295.1" cy="428.1" r="4.5" fill="#f2922a"/>
<circle cx="301.8" cy="423.7" r="4.5" fill="#f2922a"/>
<circle cx="301.8" cy="436.2" r="4.5" fill="#28ecec"/>
<circle cx="207.1" cy="436.2" r="4.5" fill="#f2922a"/>
<circle cx="193.6" cy="437.2" r="4.5" fill="#28ecec"/>
<circle cx="213.9" cy="436.2" r="4.5" fill="#28ecec"/>
<circle cx="180.0" cy="444.9" r="4.5" fill="#28ecec"/>
<circle cx="186.8" cy="448.8" r="4.5" fill="#28ecec"/>
<circle cx="194.5" cy="450.1" r="4.5" fill="#28ecec"/>
<circle cx="213.9" cy="444.9" r="4.5" fill="#f2922a"/>
<circle cx="220.6" cy="443.0" r="4.5" fill="#f2922a"/>
<circle cx="213.9" cy="451.7" r="4.5" fill="#28ecec"/>
<circle cx="220.6" cy="453.6" r="4.5" fill="#28ecec"/>
<circle cx="227.4" cy="459.4" r="4.5" fill="#28ecec"/>
<circle cx="234.2" cy="438.2" r="4.5" fill="#28ecec"/>
<circle cx="240.0" cy="440.1" r="4.5" fill="#28ecec"/>
<circle cx="247.3" cy="449.8" r="4.5" fill="#28ecec"/>
<circle cx="254.5" cy="454.6" r="4.5" fill="#28ecec"/>
<circle cx="261.2" cy="450.7" r="4.5" fill="#28ecec"/>
<circle cx="268.6" cy="443.0" r="4.5" fill="#28ecec"/>
<circle cx="268.6" cy="455.6" r="4.5" fill="#28ecec"/>
<circle cx="275.7" cy="447.8" r="4.5" fill="#28ecec"/>
<circle cx="281.5" cy="440.1" r="4.5" fill="#28ecec"/>
<circle cx="288.3" cy="452.7" r="4.5" fill="#f2922a"/>
<circle cx="295.1" cy="447.8" r="4.5" fill="#28ecec"/>
<circle cx="301.8" cy="450.7" r="4.5" fill="#28ecec"/>
<circle cx="207.1" cy="471.0" r="4.5" fill="#28ecec"/>
<circle cx="220.6" cy="471.0" r="4.5" fill="#28ecec"/>
<circle cx="227.4" cy="473.9" r="4.5" fill="#28ecec"/>
<circle cx="234.2" cy="466.2" r="4.5" fill="#28ecec"/>
<circle cx="240.0" cy="473.9" r="4.5" fill="#28ecec"/>
<circle cx="247.3" cy="475.9" r="4.5" fill="#28ecec"/>
<circle cx="254.5" cy="475.9" r="4.5" fill="#28ecec"/>
<circle cx="261.2" cy="463.3" r="4.5" fill="#28ecec"/>
<circle cx="268.6" cy="466.2" r="4.5" fill="#28ecec"/>
<circle cx="275.7" cy="465.2" r="4.5" fill="#28ecec"/>
<circle cx="281.5" cy="460.4" r="4.5" fill="#28ecec"/>
<circle cx="288.3" cy="466.2" r="4.5" fill="#28ecec"/>
<circle cx="295.1" cy="459.4" r="4.5" fill="#28ecec"/>
<circle cx="301.8" cy="460.4" r="4.5" fill="#28ecec"/>
<circle cx="220.6" cy="480.7" r="4.5" fill="#28ecec"/>
<circle cx="227.4" cy="483.6" r="4.5" fill="#28ecec"/>
<circle cx="234.2" cy="480.7" r="4.5" fill="#28ecec"/>
<circle cx="241.9" cy="484.6" r="4.5" fill="#28ecec"/>
<circle cx="254.5" cy="484.6" r="4.5" fill="#28ecec"/>
<circle cx="261.2" cy="478.8" r="4.5" fill="#28ecec"/>
<circle cx="269.0" cy="476.8" r="4.5" fill="#28ecec"/>
<circle cx="275.7" cy="480.7" r="4.5" fill="#28ecec"/>
<circle cx="282.5" cy="478.8" r="4.5" fill="#28ecec"/>
<circle cx="288.3" cy="482.6" r="4.5" fill="#28ecec"/>
<circle cx="296.0" cy="478.8" r="4.5" fill="#28ecec"/>
<circle cx="301.8" cy="480.7" r="4.5" fill="#28ecec"/>
<circle cx="227.4" cy="447.9" r="4.5" fill="#28ecec"/>
<circle cx="220.6" cy="461.4" r="4.5" fill="#28ecec"/>
<circle cx="227.4" cy="478.8" r="4.5" fill="#28ecec"/>
<circle cx="220.6" cy="488.5" r="4.5" fill="#28ecec"/>
<circle cx="227.4" cy="495.3" r="4.5" fill="#28ecec"/>
<circle cx="234.2" cy="486.6" r="4.5" fill="#28ecec"/>
<circle cx="247.7" cy="499.1" r="4.5" fill="#28ecec"/>
<circle cx="254.5" cy="495.3" r="4.5" fill="#28ecec"/>
<circle cx="261.2" cy="491.4" r="4.5" fill="#28ecec"/>
<circle cx="268.0" cy="486.6" r="4.5" fill="#28ecec"/>
<circle cx="247.7" cy="505.9" r="4.5" fill="#28ecec"/>
<circle cx="247.7" cy="513.7" r="4.5" fill="#28ecec"/>
<circle cx="254.5" cy="502.0" r="4.5" fill="#28ecec"/>
<circle cx="268.0" cy="498.2" r="4.5" fill="#28ecec"/>
<circle cx="274.8" cy="494.3" r="4.5" fill="#28ecec"/>
<circle cx="281.5" cy="491.4" r="4.5" fill="#28ecec"/>
<circle cx="288.3" cy="488.5" r="4.5" fill="#28ecec"/>
<circle cx="295.1" cy="485.6" r="4.5" fill="#28ecec"/>
<circle cx="269.0" cy="506.9" r="4.5" fill="#28ecec"/>
<circle cx="275.7" cy="508.8" r="4.5" fill="#28ecec"/>
<circle cx="281.5" cy="502.0" r="4.5" fill="#28ecec"/>
<circle cx="288.3" cy="498.2" r="4.5" fill="#28ecec"/>
<circle cx="296.0" cy="501.1" r="4.5" fill="#28ecec"/>
<circle cx="301.8" cy="506.9" r="4.5" fill="#28ecec"/>
<circle cx="274.8" cy="517.5" r="4.5" fill="#28ecec"/>
<circle cx="281.5" cy="514.6" r="4.5" fill="#28ecec"/>
<circle cx="288.3" cy="518.5" r="4.5" fill="#28ecec"/>
<circle cx="288.3" cy="525.3" r="4.5" fill="#28ecec"/>
<circle cx="296.0" cy="512.7" r="4.5" fill="#28ecec"/>
<circle cx="306.7" cy="520.4" r="4.5" fill="#28ecec"/>
<circle cx="269.0" cy="473.0" r="4.5" fill="#28ecec"/>
<circle cx="288.3" cy="476.9" r="4.5" fill="#28ecec"/>
<circle cx="301.8" cy="475.9" r="4.5" fill="#28ecec"/>
<circle cx="290.2" cy="460.5" r="4.5" fill="#28ecec"/>
<circle cx="213.9" cy="519.5" r="4.5" fill="#f2922a"/>
<circle cx="213.9" cy="539.4" r="4.5" fill="#28ecec"/>
<circle cx="240.4" cy="522.4" r="4.5" fill="#28ecec"/>
<circle cx="240.4" cy="534.9" r="4.5" fill="#f2922a"/>
<circle cx="240.4" cy="546.5" r="4.5" fill="#28ecec"/>
<circle cx="240.4" cy="554.3" r="4.5" fill="#28ecec"/>
<circle cx="356.1" cy="340.6" r="4.5" fill="#28ecec"/>
<circle cx="356.1" cy="346.4" r="4.5" fill="#28ecec"/>
<circle cx="362.9" cy="343.5" r="4.5" fill="#f2922a"/>
<circle cx="321.3" cy="343.5" r="4.5" fill="#f2922a"/>
<circle cx="335.8" cy="349.3" r="4.5" fill="#f2922a"/>
<circle cx="349.3" cy="348.4" r="4.5" fill="#f2922a"/>
<circle cx="383.2" cy="342.6" r="4.5" fill="#f2922a"/>
<circle cx="429.6" cy="346.4" r="4.5" fill="#f2922a"/>
<circle cx="435.4" cy="343.5" r="4.5" fill="#28ecec"/>
<circle cx="458.6" cy="335.8" r="4.5" fill="#28ecec"/>
<circle cx="477.9" cy="340.6" r="4.5" fill="#f2922a"/>
<circle cx="445.0" cy="332.9" r="4.5" fill="#28ecec"/>
<circle cx="383.2" cy="352.2" r="4.5" fill="#28ecec"/>
<circle cx="389.9" cy="351.3" r="4.5" fill="#28ecec"/>
<circle cx="396.7" cy="348.4" r="4.5" fill="#28ecec"/>
<circle cx="389.9" cy="358.0" r="4.5" fill="#28ecec"/>
<circle cx="410.2" cy="351.3" r="4.5" fill="#28ecec"/>
<circle cx="410.2" cy="358.0" r="4.5" fill="#28ecec"/>
<circle cx="314.5" cy="360.9" r="4.5" fill="#f2922a"/>
<circle cx="322.2" cy="376.4" r="4.5" fill="#f2922a"/>
<circle cx="329.0" cy="370.6" r="4.5" fill="#f2922a"/>
<circle cx="329.0" cy="375.4" r="4.5" fill="#f2922a"/>
<circle cx="342.5" cy="357.1" r="4.5" fill="#f2922a"/>
<circle cx="342.5" cy="365.8" r="4.5" fill="#d0a04c"/>
<circle cx="342.5" cy="370.6" r="4.5" fill="#f2922a"/>
<circle cx="356.1" cy="361.9" r="4.5" fill="#28ecec"/>
<circle cx="362.9" cy="365.8" r="4.5" fill="#28ecec"/>
<circle cx="369.6" cy="359.0" r="4.5" fill="#28ecec"/>
<circle cx="377.4" cy="361.9" r="4.5" fill="#28ecec"/>
<circle cx="377.4" cy="368.7" r="4.5" fill="#28ecec"/>
<circle cx="404.4" cy="364.8" r="4.5" fill="#f2922a"/>
<circle cx="416.0" cy="362.9" r="4.5" fill="#f2922a"/>
<circle cx="396.7" cy="366.7" r="4.5" fill="#28ecec"/>
<circle cx="383.2" cy="371.6" r="4.5" fill="#28ecec"/>
<circle cx="389.9" cy="372.5" r="4.5" fill="#28ecec"/>
<circle cx="423.8" cy="359.0" r="4.5" fill="#f2922a"/>
<circle cx="450.8" cy="360.9" r="4.5" fill="#f2922a"/>
<circle cx="464.4" cy="360.9" r="4.5" fill="#f2922a"/>
<circle cx="471.1" cy="368.7" r="4.5" fill="#f2922a"/>
<circle cx="477.9" cy="354.2" r="4.5" fill="#f2922a"/>
<circle cx="437.3" cy="370.6" r="4.5" fill="#28ecec"/>
<circle cx="445.0" cy="371.6" r="4.5" fill="#28ecec"/>
<circle cx="423.8" cy="369.6" r="4.5" fill="#28ecec"/>
<circle cx="302.9" cy="380.3" r="4.5" fill="#f2922a"/>
<circle cx="336.7" cy="388.0" r="4.5" fill="#28ecec"/>
<circle cx="349.3" cy="382.2" r="4.5" fill="#f2922a"/>
<circle cx="356.1" cy="380.3" r="4.5" fill="#28ecec"/>
<circle cx="362.9" cy="378.3" r="4.5" fill="#f2922a"/>
<circle cx="369.6" cy="382.2" r="4.5" fill="#f2922a"/>
<circle cx="377.4" cy="380.3" r="4.5" fill="#f2922a"/>
<circle cx="389.0" cy="385.1" r="4.5" fill="#f2922a"/>
<circle cx="394.8" cy="386.1" r="4.5" fill="#f2922a"/>
<circle cx="410.2" cy="386.1" r="4.5" fill="#28ecec"/>
<circle cx="418.0" cy="386.1" r="4.5" fill="#28ecec"/>
<circle cx="437.3" cy="388.0" r="4.5" fill="#28ecec"/>
<circle cx="450.8" cy="380.3" r="4.5" fill="#28ecec"/>
<circle cx="458.6" cy="372.5" r="4.5" fill="#28ecec"/>
<circle cx="464.4" cy="382.2" r="4.5" fill="#28ecec"/>
<circle cx="471.1" cy="376.4" r="4.5" fill="#28ecec"/>
<circle cx="471.1" cy="383.2" r="4.5" fill="#28ecec"/>
<circle cx="329.0" cy="402.5" r="4.5" fill="#28ecec"/>
<circle cx="335.8" cy="397.7" r="4.5" fill="#f2922a"/>
<circle cx="343.5" cy="402.5" r="4.5" fill="#28ecec"/>
<circle cx="349.3" cy="396.7" r="4.5" fill="#f2922a"/>
<circle cx="356.1" cy="393.8" r="4.5" fill="#28ecec"/>
<circle cx="362.9" cy="398.7" r="4.5" fill="#28ecec"/>
<circle cx="369.6" cy="391.9" r="4.5" fill="#f2922a"/>
<circle cx="376.4" cy="395.8" r="4.5" fill="#f2922a"/>
<circle cx="383.2" cy="396.7" r="4.5" fill="#28ecec"/>
<circle cx="396.7" cy="398.7" r="4.5" fill="#28ecec"/>
<circle cx="404.4" cy="391.9" r="4.5" fill="#28ecec"/>
<circle cx="411.2" cy="394.8" r="4.5" fill="#28ecec"/>
<circle cx="423.8" cy="392.9" r="4.5" fill="#28ecec"/>
<circle cx="444.1" cy="398.7" r="4.5" fill="#d0a04c"/>
<circle cx="450.8" cy="391.9" r="4.5" fill="#28ecec"/>
<circle cx="458.6" cy="397.7" r="4.5" fill="#28ecec"/>
<circle cx="464.4" cy="388.0" r="4.5" fill="#28ecec"/>
<circle cx="471.1" cy="399.6" r="4.5" fill="#28ecec"/>
<circle cx="314.5" cy="409.3" r="4.5" fill="#28ecec"/>
<circle cx="329.0" cy="411.2" r="4.5" fill="#28ecec"/>
<circle cx="335.8" cy="417.0" r="4.5" fill="#28ecec"/>
<circle cx="343.5" cy="408.3" r="4.5" fill="#28ecec"/>
<circle cx="349.3" cy="411.2" r="4.5" fill="#28ecec"/>
<circle cx="363.8" cy="409.3" r="4.5" fill="#28ecec"/>
<circle cx="369.6" cy="407.4" r="4.5" fill="#28ecec"/>
<circle cx="376.4" cy="417.0" r="4.5" fill="#28ecec"/>
<circle cx="383.2" cy="416.1" r="4.5" fill="#d0a04c"/>
<circle cx="396.7" cy="406.4" r="4.5" fill="#28ecec"/>
<circle cx="403.5" cy="405.4" r="4.5" fill="#28ecec"/>
<circle cx="417.0" cy="405.4" r="4.5" fill="#d0a04c"/>
<circle cx="423.8" cy="402.5" r="4.5" fill="#d0a04c"/>
<circle cx="430.5" cy="406.4" r="4.5" fill="#d0a04c"/>
<circle cx="417.0" cy="415.1" r="4.5" fill="#28ecec"/>
<circle cx="423.8" cy="419.0" r="4.5" fill="#28ecec"/>
<circle cx="450.8" cy="405.4" r="4.5" fill="#28ecec"/>
<circle cx="458.6" cy="401.6" r="4.5" fill="#28ecec"/>
<circle cx="464.4" cy="407.4" r="4.5" fill="#d0a04c"/>
<circle cx="450.8" cy="413.2" r="4.5" fill="#28ecec"/>
<circle cx="458.6" cy="415.1" r="4.5" fill="#28ecec"/>
<circle cx="308.7" cy="419.9" r="4.5" fill="#28ecec"/>
<circle cx="314.5" cy="420.9" r="4.5" fill="#28ecec"/>
<circle cx="322.2" cy="427.7" r="4.5" fill="#f2922a"/>
<circle cx="329.0" cy="419.0" r="4.5" fill="#28ecec"/>
<circle cx="335.8" cy="422.8" r="4.5" fill="#28ecec"/>
<circle cx="343.5" cy="417.0" r="4.5" fill="#28ecec"/>
<circle cx="350.3" cy="419.0" r="4.5" fill="#28ecec"/>
<circle cx="356.1" cy="413.2" r="4.5" fill="#f2922a"/>
<circle cx="363.8" cy="420.9" r="4.5" fill="#28ecec"/>
<circle cx="369.6" cy="423.8" r="4.5" fill="#28ecec"/>
<circle cx="376.4" cy="426.7" r="4.5" fill="#28ecec"/>
<circle cx="384.1" cy="428.6" r="4.5" fill="#28ecec"/>
<circle cx="396.7" cy="413.2" r="4.5" fill="#f2922a"/>
<circle cx="396.7" cy="420.9" r="4.5" fill="#28ecec"/>
<circle cx="403.5" cy="424.8" r="4.5" fill="#28ecec"/>
<circle cx="410.2" cy="422.8" r="4.5" fill="#f2922a"/>
<circle cx="410.2" cy="428.6" r="4.5" fill="#28ecec"/>
<circle cx="417.0" cy="420.9" r="4.5" fill="#28ecec"/>
<circle cx="423.8" cy="424.8" r="4.5" fill="#28ecec"/>
<circle cx="437.3" cy="421.9" r="4.5" fill="#f2922a"/>
<circle cx="437.3" cy="428.6" r="4.5" fill="#28ecec"/>
<circle cx="445.0" cy="423.8" r="4.5" fill="#28ecec"/>
<circle cx="450.8" cy="422.8" r="4.5" fill="#f2922a"/>
<circle cx="458.6" cy="424.8" r="4.5" fill="#f2922a"/>
<circle cx="471.1" cy="419.0" r="4.5" fill="#28ecec"/>
<circle cx="471.1" cy="433.5" r="4.5" fill="#f2922a"/>
<circle cx="452.8" cy="428.6" r="4.5" fill="#f2922a"/>
<circle cx="308.7" cy="432.5" r="4.5" fill="#28ecec"/>
<circle cx="315.5" cy="435.4" r="4.5" fill="#28ecec"/>
<circle cx="322.2" cy="436.4" r="4.5" fill="#28ecec"/>
<circle cx="329.0" cy="434.4" r="4.5" fill="#28ecec"/>
<circle cx="335.8" cy="431.5" r="4.5" fill="#28ecec"/>
<circle cx="342.5" cy="438.3" r="4.5" fill="#28ecec"/>
<circle cx="350.3" cy="434.4" r="4.5" fill="#28ecec"/>
<circle cx="356.1" cy="430.6" r="4.5" fill="#28ecec"/>
<circle cx="363.8" cy="434.4" r="4.5" fill="#28ecec"/>
<circle cx="369.6" cy="438.3" r="4.5" fill="#28ecec"/>
<circle cx="377.4" cy="434.4" r="4.5" fill="#28ecec"/>
<circle cx="384.1" cy="439.3" r="4.5" fill="#f2922a"/>
<circle cx="389.9" cy="446.0" r="4.5" fill="#f2922a"/>
<circle cx="376.4" cy="444.1" r="4.5" fill="#28ecec"/>
<circle cx="377.4" cy="449.9" r="4.5" fill="#d0a04c"/>
<circle cx="410.2" cy="440.2" r="4.5" fill="#28ecec"/>
<circle cx="417.0" cy="444.1" r="4.5" fill="#28ecec"/>
<circle cx="423.8" cy="448.0" r="4.5" fill="#28ecec"/>
<circle cx="430.5" cy="451.8" r="4.5" fill="#28ecec"/>
<circle cx="437.3" cy="439.3" r="4.5" fill="#f2922a"/>
<circle cx="302.9" cy="446.0" r="4.5" fill="#28ecec"/>
<circle cx="309.7" cy="446.0" r="4.5" fill="#28ecec"/>
<circle cx="315.5" cy="444.1" r="4.5" fill="#28ecec"/>
<circle cx="323.2" cy="446.0" r="4.5" fill="#28ecec"/>
<circle cx="330.0" cy="449.9" r="4.5" fill="#28ecec"/>
<circle cx="335.8" cy="446.0" r="4.5" fill="#28ecec"/>
<circle cx="343.5" cy="449.9" r="4.5" fill="#28ecec"/>
<circle cx="349.3" cy="446.0" r="4.5" fill="#28ecec"/>
<circle cx="356.1" cy="448.0" r="4.5" fill="#28ecec"/>
<circle cx="363.8" cy="449.9" r="4.5" fill="#28ecec"/>
<circle cx="369.6" cy="446.0" r="4.5" fill="#28ecec"/>
<circle cx="302.9" cy="453.8" r="4.5" fill="#28ecec"/>
<circle cx="315.5" cy="455.7" r="4.5" fill="#28ecec"/>
<circle cx="329.0" cy="455.7" r="4.5" fill="#28ecec"/>
<circle cx="335.8" cy="457.6" r="4.5" fill="#28ecec"/>
<circle cx="343.5" cy="453.8" r="4.5" fill="#28ecec"/>
<circle cx="349.3" cy="457.6" r="4.5" fill="#28ecec"/>
<circle cx="356.1" cy="453.8" r="4.5" fill="#28ecec"/>
<circle cx="362.9" cy="459.6" r="4.5" fill="#28ecec"/>
<circle cx="370.6" cy="453.8" r="4.5" fill="#28ecec"/>
<circle cx="377.4" cy="457.6" r="4.5" fill="#28ecec"/>
<circle cx="410.2" cy="451.8" r="4.5" fill="#28ecec"/>
<circle cx="417.0" cy="457.6" r="4.5" fill="#28ecec"/>
<circle cx="423.8" cy="461.5" r="4.5" fill="#28ecec"/>
<circle cx="437.3" cy="457.6" r="4.5" fill="#f2922a"/>
<circle cx="444.1" cy="457.6" r="4.5" fill="#f2922a"/>
<circle cx="330.0" cy="450.8" r="4.5" fill="#d0a04c"/>
<circle cx="349.3" cy="450.8" r="4.5" fill="#28ecec"/>
<circle cx="362.9" cy="454.7" r="4.5" fill="#28ecec"/>
<circle cx="376.4" cy="464.3" r="4.5" fill="#28ecec"/>
<circle cx="307.7" cy="462.4" r="4.5" fill="#28ecec"/>
<circle cx="314.5" cy="460.5" r="4.5" fill="#28ecec"/>
<circle cx="322.2" cy="462.4" r="4.5" fill="#28ecec"/>
<circle cx="329.0" cy="463.4" r="4.5" fill="#28ecec"/>
<circle cx="335.8" cy="469.2" r="4.5" fill="#28ecec"/>
<circle cx="343.5" cy="473.0" r="4.5" fill="#28ecec"/>
<circle cx="314.5" cy="473.0" r="4.5" fill="#d0a04c"/>
<circle cx="322.2" cy="470.1" r="4.5" fill="#28ecec"/>
<circle cx="329.0" cy="474.0" r="4.5" fill="#28ecec"/>
<circle cx="308.7" cy="480.8" r="4.5" fill="#28ecec"/>
<circle cx="301.9" cy="486.6" r="4.5" fill="#28ecec"/>
<circle cx="315.5" cy="489.5" r="4.5" fill="#28ecec"/>
<circle cx="322.2" cy="477.9" r="4.5" fill="#28ecec"/>
<circle cx="322.2" cy="492.4" r="4.5" fill="#28ecec"/>
<circle cx="335.8" cy="495.3" r="4.5" fill="#28ecec"/>
<circle cx="349.3" cy="491.4" r="4.5" fill="#28ecec"/>
<circle cx="308.7" cy="496.2" r="4.5" fill="#28ecec"/>
<circle cx="301.9" cy="511.7" r="4.5" fill="#28ecec"/>
<circle cx="308.7" cy="507.9" r="4.5" fill="#28ecec"/>
<circle cx="315.5" cy="506.9" r="4.5" fill="#28ecec"/>
<circle cx="315.5" cy="514.6" r="4.5" fill="#28ecec"/>
<circle cx="315.5" cy="523.3" r="4.5" fill="#28ecec"/>
<circle cx="411.2" cy="464.3" r="4.5" fill="#28ecec"/>
<circle cx="430.5" cy="461.4" r="4.5" fill="#28ecec"/>
<circle cx="423.8" cy="465.9" r="4.5" fill="#f2922a"/>
<circle cx="437.3" cy="463.4" r="4.5" fill="#f2922a"/>
<circle cx="424.7" cy="481.4" r="4.5" fill="#28ecec"/>
<circle cx="417.6" cy="499.1" r="4.5" fill="#28ecec"/>
<circle cx="165.7" cy="342.2" r="4.5" fill="#28ecec"/>
<circle cx="154.1" cy="350.9" r="4.5" fill="#28ecec"/>
<circle cx="179.5" cy="359.6" r="4.5" fill="#28ecec"/>
<circle cx="193.3" cy="369.0" r="4.5" fill="#f2922a"/>
</g>
<path d="M138.8,251.7 C140.7,256.7 145.7,270.2 149.9,282.1 C154.1,294.0 158.8,310.8 163.9,323.2 C169.1,335.5 175.9,346.0 180.8,356.2 C185.7,366.5 188.4,374.7 193.5,384.8 C198.6,394.8 205.5,407.4 211.3,416.5 C217.1,425.6 222.8,432.8 228.5,439.2 C234.2,445.6 240.0,450.8 245.5,454.9 C251.0,459.0 256.6,461.7 261.6,463.7 C266.6,465.7 269.8,466.8 275.6,466.7 C281.4,466.6 289.6,465.9 296.5,463.3 C303.4,460.7 310.0,455.7 316.9,450.9 C323.8,446.1 330.9,439.9 337.9,434.6 C344.9,429.3 351.8,424.4 358.8,419.2 C365.8,414.0 374.5,408.0 379.8,403.6 C385.1,399.2 386.1,397.2 390.9,392.5 C395.6,387.9 403.2,381.1 408.3,375.5 C413.4,370.0 416.9,365.1 421.7,359.2 C426.5,353.3 432.8,345.8 437.4,340.2 C442.0,334.7 444.7,332.1 449.1,326.2 C453.5,320.3 458.9,311.8 463.6,304.8 C468.3,297.7 475.1,287.3 477.4,283.8 L477.4,311.6 C475.1,314.3 468.3,322.4 463.6,327.8 C458.9,333.3 453.5,339.5 449.1,344.2 C444.7,349.0 442.0,351.6 437.4,356.4 C432.8,361.1 426.5,367.7 421.7,372.8 C416.9,377.9 413.4,381.9 408.3,386.9 C403.2,391.8 395.6,398.0 390.9,402.5 C386.1,406.9 385.1,409.0 379.8,413.4 C374.5,417.8 365.8,423.7 358.8,428.8 C351.8,433.9 344.9,438.8 337.9,444.0 C330.9,449.2 323.8,455.4 316.9,460.1 C310.0,464.8 303.4,469.7 296.5,472.3 C289.6,474.9 281.4,475.6 275.6,475.7 C269.8,475.8 266.6,474.7 261.6,472.7 C256.6,470.7 251.0,468.0 245.5,463.9 C240.0,459.8 234.2,454.6 228.5,448.2 C222.8,441.8 217.1,434.5 211.3,425.5 C205.5,416.5 198.6,404.1 193.5,394.4 C188.4,384.7 185.7,376.7 180.8,367.2 C175.9,357.7 169.1,348.4 163.9,337.4 C158.8,326.5 154.1,312.0 149.9,301.7 C145.7,291.3 140.7,279.7 138.8,275.4 Z" fill="#28ecec" fill-opacity="0.4" stroke="none"/>
<path d="M138.8,263.5 C140.7,268.2 145.7,280.8 149.9,291.9 C154.1,303.0 158.8,318.7 163.9,330.3 C169.1,341.9 175.9,351.8 180.8,361.7 C185.7,371.6 188.4,379.7 193.5,389.6 C198.6,399.5 205.5,412.0 211.3,421.0 C217.1,430.0 222.8,437.3 228.5,443.7 C234.2,450.1 240.0,455.3 245.5,459.4 C251.0,463.5 256.6,466.2 261.6,468.2 C266.6,470.2 269.8,471.3 275.6,471.2 C281.4,471.1 289.6,470.4 296.5,467.8 C303.4,465.2 310.0,460.2 316.9,455.5 C323.8,450.8 330.9,444.6 337.9,439.3 C344.9,434.1 351.8,429.1 358.8,424.0 C365.8,418.9 374.5,412.9 379.8,408.5 C385.1,404.1 386.1,402.1 390.9,397.5 C395.6,392.9 403.2,386.4 408.3,381.2 C413.4,375.9 416.9,371.5 421.7,366.0 C426.5,360.5 432.8,353.4 437.4,348.3 C442.0,343.2 444.7,340.5 449.1,335.2 C453.5,329.9 458.9,322.6 463.6,316.3 C468.3,310.1 475.1,300.8 477.4,297.7" fill="none" stroke="#1010e8" stroke-width="3.4"/>
<path d="M138.8,282.8 C141.8,287.9 151.0,304.5 156.9,313.5 C162.8,322.6 168.6,330.4 174.4,337.2 C180.2,344.0 185.4,349.2 191.8,354.3 C198.2,359.3 205.7,364.0 212.7,367.6 C219.7,371.3 226.7,373.4 233.7,375.9 C240.7,378.4 247.6,381.0 254.6,382.8 C261.6,384.5 268.6,386.7 275.6,386.4 C282.6,386.1 289.6,383.0 296.5,381.0 C303.4,379.0 310.0,376.0 316.9,374.4 C323.8,372.8 330.9,371.9 337.9,371.4 C344.9,370.8 351.8,371.2 358.8,371.1 C365.8,370.9 372.8,371.1 379.8,370.5 C386.8,369.9 394.0,369.3 400.7,367.3 C407.4,365.4 414.4,361.8 420.0,358.8 C425.6,355.8 429.6,352.3 434.5,349.3 C439.4,346.2 444.2,344.1 449.1,340.6 C454.0,337.0 458.8,332.3 463.6,327.8 C468.4,323.3 475.7,316.0 478.1,313.6 L478.1,365.6 C475.7,366.1 468.4,368.0 463.6,368.8 C458.8,369.7 454.0,369.4 449.1,370.6 C444.2,371.9 439.4,374.3 434.5,376.3 C429.6,378.4 425.6,381.0 420.0,382.8 C414.4,384.7 407.4,386.1 400.7,387.5 C394.0,388.9 386.8,390.4 379.8,391.3 C372.8,392.2 365.8,392.3 358.8,392.7 C351.8,393.1 344.9,393.0 337.9,393.8 C330.9,394.7 323.8,395.9 316.9,397.8 C310.0,399.7 303.4,402.8 296.5,405.2 C289.6,407.7 282.6,411.5 275.6,412.4 C268.6,413.2 261.6,411.9 254.6,410.4 C247.6,408.9 240.7,406.0 233.7,403.3 C226.7,400.6 219.7,397.5 212.7,394.2 C205.7,390.8 198.2,386.8 191.8,383.1 C185.4,379.5 180.2,376.5 174.4,372.2 C168.6,367.9 162.8,361.2 156.9,357.5 C151.0,353.7 141.8,351.1 138.8,349.8 Z" fill="#f2922a" fill-opacity="0.4" stroke="none"/>
<path d="M138.8,316.3 C141.8,319.5 151.0,329.1 156.9,335.5 C162.8,341.9 168.6,349.2 174.4,354.7 C180.2,360.2 185.4,364.3 191.8,368.7 C198.2,373.1 205.7,377.4 212.7,380.9 C219.7,384.4 226.7,387.0 233.7,389.6 C240.7,392.2 247.6,395.0 254.6,396.6 C261.6,398.2 268.6,400.0 275.6,399.4 C282.6,398.8 289.6,395.3 296.5,393.1 C303.4,390.9 310.0,387.9 316.9,386.1 C323.8,384.4 330.9,383.3 337.9,382.6 C344.9,381.9 351.8,382.2 358.8,381.9 C365.8,381.6 372.8,381.6 379.8,380.9 C386.8,380.1 394.0,379.1 400.7,377.4 C407.4,375.7 414.4,373.2 420.0,370.8 C425.6,368.4 429.6,365.3 434.5,362.8 C439.4,360.3 444.2,358.0 449.1,355.6 C454.0,353.2 458.8,351.0 463.6,348.3 C468.4,345.6 475.7,341.1 478.1,339.6" fill="none" stroke="#f01010" stroke-width="3.4"/>
<g stroke="#111" stroke-width="1.5">
<circle cx="598.8" cy="123.6" r="4.5" fill="#28ecec"/>
<circle cx="592.0" cy="130.9" r="4.5" fill="#28ecec"/>
<circle cx="592.0" cy="136.4" r="4.5" fill="#f2922a"/>
<circle cx="605.9" cy="136.4" r="4.5" fill="#f2922a"/>
<circle cx="592.0" cy="146.0" r="4.5" fill="#28ecec"/>
<circle cx="599.4" cy="144.9" r="4.5" fill="#f2922a"/>
<circle cx="605.9" cy="152.6" r="4.5" fill="#28ecec"/>
<circle cx="579.4" cy="157.0" r="4.5" fill="#28ecec"/>
<circle cx="586.2" cy="154.1" r="4.5" fill="#28ecec"/>
<circle cx="586.2" cy="161.9" r="4.5" fill="#28ecec"/>
<circle cx="598.8" cy="159.0" r="4.5" fill="#28ecec"/>
<circle cx="577.5" cy="166.7" r="4.5" fill="#28ecec"/>
<circle cx="592.0" cy="171.2" r="4.5" fill="#28ecec"/>
<circle cx="598.8" cy="165.8" r="4.5" fill="#28ecec"/>
<circle cx="605.9" cy="165.8" r="4.5" fill="#28ecec"/>
<circle cx="598.8" cy="176.4" r="4.5" fill="#28ecec"/>
<circle cx="605.9" cy="178.3" r="4.5" fill="#28ecec"/>
<circle cx="613.3" cy="174.5" r="4.5" fill="#f2922a"/>
<circle cx="620.0" cy="176.4" r="4.5" fill="#f2922a"/>
<circle cx="620.0" cy="182.2" r="4.5" fill="#f2922a"/>
<circle cx="613.3" cy="183.2" r="4.5" fill="#28ecec"/>
<circle cx="598.8" cy="184.1" r="4.5" fill="#28ecec"/>
<circle cx="606.5" cy="186.1" r="4.5" fill="#28ecec"/>
<circle cx="586.2" cy="189.9" r="4.5" fill="#28ecec"/>
<circle cx="586.2" cy="195.7" r="4.5" fill="#28ecec"/>
<circle cx="586.2" cy="201.5" r="4.5" fill="#28ecec"/>
<circle cx="592.0" cy="199.6" r="4.5" fill="#28ecec"/>
<circle cx="613.3" cy="190.9" r="4.5" fill="#f2922a"/>
<circle cx="613.3" cy="200.6" r="4.5" fill="#f2922a"/>
<circle cx="606.5" cy="196.7" r="4.5" fill="#f2922a"/>
<circle cx="620.0" cy="198.6" r="4.5" fill="#f2922a"/>
<circle cx="626.8" cy="195.7" r="4.5" fill="#f2922a"/>
<circle cx="632.6" cy="199.6" r="4.5" fill="#28ecec"/>
<circle cx="633.0" cy="185.1" r="4.5" fill="#f2922a"/>
<circle cx="626.8" cy="185.1" r="4.5" fill="#28ecec"/>
<circle cx="640.4" cy="185.1" r="4.5" fill="#28ecec"/>
<circle cx="640.4" cy="179.3" r="4.5" fill="#28ecec"/>
<circle cx="639.4" cy="173.5" r="4.5" fill="#f2922a"/>
<circle cx="647.1" cy="173.1" r="4.5" fill="#f2922a"/>
<circle cx="647.1" cy="189.3" r="4.5" fill="#28ecec"/>
<circle cx="647.1" cy="196.7" r="4.5" fill="#28ecec"/>
<circle cx="639.4" cy="157.0" r="4.5" fill="#f2922a"/>
<circle cx="639.4" cy="162.9" r="4.5" fill="#28ecec"/>
<circle cx="660.7" cy="158.4" r="4.5" fill="#f2922a"/>
<circle cx="666.5" cy="173.5" r="4.5" fill="#f2922a"/>
<circle cx="666.5" cy="179.3" r="4.5" fill="#f2922a"/>
<circle cx="673.2" cy="181.2" r="4.5" fill="#f2922a"/>
<circle cx="680.6" cy="184.1" r="4.5" fill="#f2922a"/>
<circle cx="680.6" cy="147.4" r="4.5" fill="#f2922a"/>
<circle cx="680.6" cy="153.2" r="4.5" fill="#f2922a"/>
<circle cx="687.7" cy="128.0" r="4.5" fill="#f2922a"/>
<circle cx="694.5" cy="130.9" r="4.5" fill="#f2922a"/>
<circle cx="694.5" cy="141.6" r="4.5" fill="#f2922a"/>
<circle cx="700.3" cy="146.4" r="4.5" fill="#f2922a"/>
<circle cx="700.3" cy="151.2" r="4.5" fill="#f2922a"/>
<circle cx="707.1" cy="140.6" r="4.5" fill="#f2922a"/>
<circle cx="687.7" cy="167.7" r="4.5" fill="#f2922a"/>
<circle cx="687.7" cy="174.5" r="4.5" fill="#f2922a"/>
<circle cx="700.3" cy="173.5" r="4.5" fill="#f2922a"/>
<circle cx="707.1" cy="172.5" r="4.5" fill="#f2922a"/>
<circle cx="713.8" cy="169.6" r="4.5" fill="#f2922a"/>
<circle cx="721.6" cy="148.3" r="4.5" fill="#f2922a"/>
<circle cx="728.3" cy="157.0" r="4.5" fill="#f2922a"/>
<circle cx="733.2" cy="144.5" r="4.5" fill="#f2922a"/>
<circle cx="740.9" cy="144.5" r="4.5" fill="#f2922a"/>
<circle cx="746.7" cy="137.7" r="4.5" fill="#f2922a"/>
<circle cx="728.3" cy="169.6" r="4.5" fill="#f2922a"/>
<circle cx="733.2" cy="156.1" r="4.5" fill="#f2922a"/>
<circle cx="733.2" cy="162.9" r="4.5" fill="#f2922a"/>
<circle cx="740.9" cy="170.6" r="4.5" fill="#f2922a"/>
<circle cx="746.7" cy="170.6" r="4.5" fill="#f2922a"/>
<circle cx="721.6" cy="178.3" r="4.5" fill="#f2922a"/>
<circle cx="707.1" cy="184.1" r="4.5" fill="#28ecec"/>
<circle cx="713.8" cy="184.1" r="4.5" fill="#28ecec"/>
<circle cx="721.6" cy="185.1" r="4.5" fill="#f2922a"/>
<circle cx="700.3" cy="189.0" r="4.5" fill="#f2922a"/>
<circle cx="694.5" cy="190.9" r="4.5" fill="#f2922a"/>
<circle cx="687.7" cy="194.8" r="4.5" fill="#f2922a"/>
<circle cx="673.2" cy="189.0" r="4.5" fill="#f2922a"/>
<circle cx="674.2" cy="194.8" r="4.5" fill="#28ecec"/>
<circle cx="666.5" cy="196.7" r="4.5" fill="#f2922a"/>
<circle cx="721.6" cy="196.7" r="4.5" fill="#28ecec"/>
<circle cx="740.9" cy="195.7" r="4.5" fill="#28ecec"/>
<circle cx="740.9" cy="201.5" r="4.5" fill="#28ecec"/>
<circle cx="746.7" cy="198.6" r="4.5" fill="#28ecec"/>
<circle cx="728.3" cy="205.4" r="4.5" fill="#28ecec"/>
<circle cx="727.4" cy="211.2" r="4.5" fill="#f2922a"/>
<circle cx="734.1" cy="212.2" r="4.5" fill="#f2922a"/>
<circle cx="721.6" cy="212.2" r="4.5" fill="#28ecec"/>
<circle cx="721.6" cy="221.8" r="4.5" fill="#28ecec"/>
<circle cx="740.9" cy="212.2" r="4.5" fill="#28ecec"/>
<circle cx="746.7" cy="216.0" r="4.5" fill="#28ecec"/>
<circle cx="735.1" cy="225.7" r="4.5" fill="#28ecec"/>
<circle cx="694.5" cy="217.0" r="4.5" fill="#f2922a"/>
<circle cx="707.1" cy="216.0" r="4.5" fill="#f2922a"/>
<circle cx="700.3" cy="223.8" r="4.5" fill="#28ecec"/>
<circle cx="666.5" cy="223.8" r="4.5" fill="#28ecec"/>
<circle cx="673.2" cy="220.9" r="4.5" fill="#28ecec"/>
<circle cx="680.6" cy="224.7" r="4.5" fill="#28ecec"/>
<circle cx="660.7" cy="218.0" r="4.5" fill="#f2922a"/>
<circle cx="653.9" cy="221.8" r="4.5" fill="#28ecec"/>
<circle cx="647.1" cy="216.0" r="4.5" fill="#28ecec"/>
<circle cx="640.4" cy="221.8" r="4.5" fill="#28ecec"/>
<circle cx="646.2" cy="225.7" r="4.5" fill="#f2922a"/>
<circle cx="632.6" cy="227.6" r="4.5" fill="#28ecec"/>
<circle cx="592.0" cy="207.3" r="4.5" fill="#28ecec"/>
<circle cx="592.0" cy="214.1" r="4.5" fill="#28ecec"/>
<circle cx="585.2" cy="218.0" r="4.5" fill="#f2922a"/>
<circle cx="592.0" cy="220.9" r="4.5" fill="#f2922a"/>
<circle cx="613.3" cy="210.2" r="4.5" fill="#28ecec"/>
<circle cx="613.3" cy="216.0" r="4.5" fill="#f2922a"/>
<circle cx="620.0" cy="211.2" r="4.5" fill="#f2922a"/>
<circle cx="626.8" cy="210.2" r="4.5" fill="#f2922a"/>
<circle cx="626.8" cy="205.4" r="4.5" fill="#28ecec"/>
<circle cx="633.6" cy="208.3" r="4.5" fill="#f2922a"/>
<circle cx="620.0" cy="204.4" r="4.5" fill="#28ecec"/>
<circle cx="599.7" cy="221.8" r="4.5" fill="#f2922a"/>
<circle cx="599.7" cy="229.6" r="4.5" fill="#f2922a"/>
<circle cx="613.3" cy="229.6" r="4.5" fill="#28ecec"/>
<circle cx="640.4" cy="231.5" r="4.5" fill="#28ecec"/>
<circle cx="653.9" cy="228.6" r="4.5" fill="#f2922a"/>
<circle cx="592.0" cy="229.6" r="4.5" fill="#28ecec"/>
<circle cx="916.2" cy="91.2" r="4.5" fill="#28ecec"/>
<circle cx="916.2" cy="109.4" r="4.5" fill="#28ecec"/>
<circle cx="889.5" cy="113.8" r="4.5" fill="#28ecec"/>
<circle cx="916.2" cy="121.6" r="4.5" fill="#28ecec"/>
<circle cx="916.2" cy="126.4" r="4.5" fill="#28ecec"/>
<circle cx="903.6" cy="122.5" r="4.5" fill="#28ecec"/>
<circle cx="896.8" cy="127.4" r="4.5" fill="#28ecec"/>
<circle cx="910.4" cy="131.2" r="4.5" fill="#28ecec"/>
<circle cx="916.2" cy="134.1" r="4.5" fill="#28ecec"/>
<circle cx="889.5" cy="134.1" r="4.5" fill="#28ecec"/>
<circle cx="896.8" cy="137.0" r="4.5" fill="#28ecec"/>
<circle cx="903.6" cy="139.0" r="4.5" fill="#28ecec"/>
<circle cx="903.6" cy="144.8" r="4.5" fill="#28ecec"/>
<circle cx="910.4" cy="141.9" r="4.5" fill="#28ecec"/>
<circle cx="910.4" cy="148.7" r="4.5" fill="#28ecec"/>
<circle cx="869.8" cy="149.6" r="4.5" fill="#28ecec"/>
<circle cx="877.5" cy="150.6" r="4.5" fill="#28ecec"/>
<circle cx="889.5" cy="152.5" r="4.5" fill="#28ecec"/>
<circle cx="896.8" cy="147.7" r="4.5" fill="#28ecec"/>
<circle cx="903.6" cy="153.5" r="4.5" fill="#28ecec"/>
<circle cx="896.8" cy="163.2" r="4.5" fill="#28ecec"/>
<circle cx="889.5" cy="159.3" r="4.5" fill="#28ecec"/>
<circle cx="882.3" cy="161.2" r="4.5" fill="#28ecec"/>
<circle cx="882.3" cy="168.0" r="4.5" fill="#28ecec"/>
<circle cx="869.8" cy="159.3" r="4.5" fill="#28ecec"/>
<circle cx="869.8" cy="169.9" r="4.5" fill="#28ecec"/>
<circle cx="869.8" cy="174.8" r="4.5" fill="#28ecec"/>
<circle cx="916.2" cy="158.3" r="4.5" fill="#28ecec"/>
<circle cx="916.2" cy="166.1" r="4.5" fill="#28ecec"/>
<circle cx="882.3" cy="179.6" r="4.5" fill="#28ecec"/>
<circle cx="889.5" cy="178.6" r="4.5" fill="#28ecec"/>
<circle cx="896.8" cy="182.5" r="4.5" fill="#28ecec"/>
<circle cx="903.6" cy="180.6" r="4.5" fill="#28ecec"/>
<circle cx="910.4" cy="180.6" r="4.5" fill="#28ecec"/>
<circle cx="910.4" cy="186.4" r="4.5" fill="#28ecec"/>
<circle cx="903.6" cy="196.0" r="4.5" fill="#28ecec"/>
<circle cx="910.4" cy="198.0" r="4.5" fill="#28ecec"/>
<circle cx="903.6" cy="203.8" r="4.5" fill="#28ecec"/>
<circle cx="910.4" cy="207.6" r="4.5" fill="#28ecec"/>
<circle cx="896.8" cy="199.9" r="4.5" fill="#28ecec"/>
<circle cx="863.0" cy="182.5" r="4.5" fill="#28ecec"/>
<circle cx="869.8" cy="187.3" r="4.5" fill="#f2922a"/>
<circle cx="869.8" cy="207.6" r="4.5" fill="#28ecec"/>
<circle cx="877.5" cy="203.8" r="4.5" fill="#28ecec"/>
<circle cx="883.3" cy="198.0" r="4.5" fill="#f2922a"/>
<circle cx="890.1" cy="203.8" r="4.5" fill="#28ecec"/>
<circle cx="896.8" cy="208.6" r="4.5" fill="#f2922a"/>
<circle cx="916.2" cy="175.7" r="4.5" fill="#f2922a"/>
<circle cx="822.4" cy="122.9" r="4.5" fill="#28ecec"/>
<circle cx="829.2" cy="130.7" r="4.5" fill="#28ecec"/>
<circle cx="815.2" cy="136.5" r="4.5" fill="#28ecec"/>
<circle cx="829.2" cy="144.2" r="4.5" fill="#28ecec"/>
<circle cx="808.3" cy="147.3" r="4.5" fill="#28ecec"/>
<circle cx="795.9" cy="137.0" r="4.5" fill="#28ecec"/>
<circle cx="788.9" cy="130.7" r="4.5" fill="#28ecec"/>
<circle cx="781.8" cy="126.4" r="4.5" fill="#f2922a"/>
<circle cx="788.9" cy="139.0" r="4.5" fill="#f2922a"/>
<circle cx="795.9" cy="144.8" r="4.5" fill="#f2922a"/>
<circle cx="795.9" cy="151.6" r="4.5" fill="#28ecec"/>
<circle cx="769.2" cy="133.2" r="4.5" fill="#f2922a"/>
<circle cx="754.7" cy="142.9" r="4.5" fill="#f2922a"/>
<circle cx="754.7" cy="146.7" r="4.5" fill="#f2922a"/>
<circle cx="762.4" cy="144.8" r="4.5" fill="#f2922a"/>
<circle cx="775.0" cy="147.3" r="4.5" fill="#f2922a"/>
<circle cx="762.4" cy="159.3" r="4.5" fill="#f2922a"/>
<circle cx="769.2" cy="160.3" r="4.5" fill="#f2922a"/>
<circle cx="781.8" cy="168.0" r="4.5" fill="#28ecec"/>
<circle cx="788.9" cy="174.8" r="4.5" fill="#28ecec"/>
<circle cx="795.9" cy="175.7" r="4.5" fill="#28ecec"/>
<circle cx="802.1" cy="162.8" r="4.5" fill="#f2922a"/>
<circle cx="808.3" cy="158.3" r="4.5" fill="#f2922a"/>
<circle cx="808.3" cy="165.1" r="4.5" fill="#28ecec"/>
<circle cx="815.2" cy="167.0" r="4.5" fill="#28ecec"/>
<circle cx="822.4" cy="161.2" r="4.5" fill="#28ecec"/>
<circle cx="829.2" cy="165.1" r="4.5" fill="#28ecec"/>
<circle cx="842.3" cy="160.3" r="4.5" fill="#28ecec"/>
<circle cx="842.3" cy="165.5" r="4.5" fill="#28ecec"/>
<circle cx="842.3" cy="178.6" r="4.5" fill="#28ecec"/>
<circle cx="848.5" cy="175.7" r="4.5" fill="#28ecec"/>
<circle cx="848.5" cy="180.6" r="4.5" fill="#28ecec"/>
<circle cx="848.5" cy="189.3" r="4.5" fill="#f2922a"/>
<circle cx="848.5" cy="197.0" r="4.5" fill="#28ecec"/>
<circle cx="829.2" cy="189.3" r="4.5" fill="#28ecec"/>
<circle cx="836.5" cy="193.7" r="4.5" fill="#f2922a"/>
<circle cx="829.2" cy="197.0" r="4.5" fill="#28ecec"/>
<circle cx="822.4" cy="194.1" r="4.5" fill="#28ecec"/>
<circle cx="823.0" cy="203.8" r="4.5" fill="#f2922a"/>
<circle cx="815.6" cy="197.0" r="4.5" fill="#f2922a"/>
<circle cx="807.9" cy="190.2" r="4.5" fill="#28ecec"/>
<circle cx="807.9" cy="179.6" r="4.5" fill="#f2922a"/>
<circle cx="802.1" cy="188.3" r="4.5" fill="#28ecec"/>
<circle cx="802.1" cy="176.7" r="4.5" fill="#28ecec"/>
<circle cx="795.3" cy="191.2" r="4.5" fill="#f2922a"/>
<circle cx="787.6" cy="201.8" r="4.5" fill="#f2922a"/>
<circle cx="795.3" cy="203.8" r="4.5" fill="#f2922a"/>
<circle cx="781.8" cy="179.6" r="4.5" fill="#28ecec"/>
<circle cx="775.0" cy="183.5" r="4.5" fill="#28ecec"/>
<circle cx="754.7" cy="190.6" r="4.5" fill="#28ecec"/>
<circle cx="769.2" cy="192.2" r="4.5" fill="#28ecec"/>
<circle cx="769.2" cy="198.0" r="4.5" fill="#28ecec"/>
<circle cx="748.9" cy="207.6" r="4.5" fill="#28ecec"/>
<circle cx="769.2" cy="207.6" r="4.5" fill="#f2922a"/>
<circle cx="775.0" cy="211.5" r="4.5" fill="#f2922a"/>
<circle cx="795.3" cy="209.6" r="4.5" fill="#28ecec"/>
<circle cx="802.1" cy="211.5" r="4.5" fill="#28ecec"/>
<circle cx="802.1" cy="199.9" r="4.5" fill="#28ecec"/>
<circle cx="598.8" cy="232.3" r="4.5" fill="#28ecec"/>
<circle cx="612.3" cy="240.1" r="4.5" fill="#28ecec"/>
<circle cx="620.0" cy="241.0" r="4.5" fill="#28ecec"/>
<circle cx="620.0" cy="246.8" r="4.5" fill="#28ecec"/>
<circle cx="620.0" cy="253.6" r="4.5" fill="#28ecec"/>
<circle cx="632.6" cy="250.7" r="4.5" fill="#28ecec"/>
<circle cx="646.2" cy="238.1" r="4.5" fill="#28ecec"/>
<circle cx="652.9" cy="242.0" r="4.5" fill="#28ecec"/>
<circle cx="653.9" cy="252.6" r="4.5" fill="#f2922a"/>
<circle cx="666.5" cy="238.1" r="4.5" fill="#28ecec"/>
<circle cx="673.2" cy="234.3" r="4.5" fill="#28ecec"/>
<circle cx="680.0" cy="234.3" r="4.5" fill="#28ecec"/>
<circle cx="687.7" cy="233.3" r="4.5" fill="#28ecec"/>
<circle cx="673.2" cy="243.9" r="4.5" fill="#28ecec"/>
<circle cx="680.0" cy="247.8" r="4.5" fill="#28ecec"/>
<circle cx="686.8" cy="253.6" r="4.5" fill="#28ecec"/>
<circle cx="693.5" cy="240.1" r="4.5" fill="#28ecec"/>
<circle cx="700.3" cy="243.9" r="4.5" fill="#28ecec"/>
<circle cx="707.1" cy="246.8" r="4.5" fill="#28ecec"/>
<circle cx="713.8" cy="240.1" r="4.5" fill="#28ecec"/>
<circle cx="721.6" cy="241.0" r="4.5" fill="#28ecec"/>
<circle cx="713.8" cy="248.8" r="4.5" fill="#28ecec"/>
<circle cx="700.3" cy="250.7" r="4.5" fill="#28ecec"/>
<circle cx="666.5" cy="249.7" r="4.5" fill="#28ecec"/>
<circle cx="660.7" cy="257.5" r="4.5" fill="#28ecec"/>
<circle cx="673.2" cy="253.6" r="4.5" fill="#28ecec"/>
<circle cx="666.5" cy="257.5" r="4.5" fill="#28ecec"/>
<circle cx="728.3" cy="222.7" r="4.5" fill="#f2922a"/>
<circle cx="740.9" cy="231.4" r="4.5" fill="#f2922a"/>
<circle cx="734.1" cy="238.1" r="4.5" fill="#28ecec"/>
<circle cx="740.9" cy="220.7" r="4.5" fill="#28ecec"/>
<circle cx="747.7" cy="224.6" r="4.5" fill="#28ecec"/>
<circle cx="746.7" cy="246.8" r="4.5" fill="#28ecec"/>
<circle cx="740.9" cy="253.6" r="4.5" fill="#28ecec"/>
<circle cx="586.2" cy="253.6" r="4.5" fill="#f2922a"/>
<circle cx="646.2" cy="262.3" r="4.5" fill="#28ecec"/>
<circle cx="653.9" cy="267.1" r="4.5" fill="#28ecec"/>
<circle cx="661.6" cy="271.0" r="4.5" fill="#28ecec"/>
<circle cx="673.2" cy="266.2" r="4.5" fill="#28ecec"/>
<circle cx="680.0" cy="263.3" r="4.5" fill="#28ecec"/>
<circle cx="686.8" cy="267.1" r="4.5" fill="#28ecec"/>
<circle cx="693.5" cy="261.3" r="4.5" fill="#28ecec"/>
<circle cx="700.3" cy="262.3" r="4.5" fill="#28ecec"/>
<circle cx="707.1" cy="262.3" r="4.5" fill="#28ecec"/>
<circle cx="721.6" cy="261.3" r="4.5" fill="#28ecec"/>
<circle cx="728.3" cy="259.4" r="4.5" fill="#28ecec"/>
<circle cx="734.1" cy="268.1" r="4.5" fill="#28ecec"/>
<circle cx="740.9" cy="271.0" r="4.5" fill="#28ecec"/>
<circle cx="746.7" cy="263.3" r="4.5" fill="#28ecec"/>
<circle cx="606.5" cy="269.1" r="4.5" fill="#28ecec"/>
<circle cx="613.3" cy="275.9" r="4.5" fill="#28ecec"/>
<circle cx="620.0" cy="274.9" r="4.5" fill="#28ecec"/>
<circle cx="598.8" cy="276.4" r="4.5" fill="#f2922a"/>
<circle cx="606.5" cy="279.1" r="4.5" fill="#f2922a"/>
<circle cx="632.6" cy="269.1" r="4.5" fill="#28ecec"/>
<circle cx="639.4" cy="275.9" r="4.5" fill="#28ecec"/>
<circle cx="632.6" cy="281.7" r="4.5" fill="#28ecec"/>
<circle cx="639.4" cy="285.5" r="4.5" fill="#28ecec"/>
<circle cx="632.6" cy="288.4" r="4.5" fill="#28ecec"/>
<circle cx="666.5" cy="278.8" r="4.5" fill="#28ecec"/>
<circle cx="681.0" cy="279.7" r="4.5" fill="#28ecec"/>
<circle cx="686.8" cy="283.6" r="4.5" fill="#28ecec"/>
<circle cx="694.5" cy="280.7" r="4.5" fill="#28ecec"/>
<circle cx="700.3" cy="280.7" r="4.5" fill="#28ecec"/>
<circle cx="707.1" cy="285.5" r="4.5" fill="#28ecec"/>
<circle cx="713.8" cy="283.6" r="4.5" fill="#28ecec"/>
<circle cx="720.6" cy="274.9" r="4.5" fill="#28ecec"/>
<circle cx="728.3" cy="275.9" r="4.5" fill="#28ecec"/>
<circle cx="735.1" cy="274.9" r="4.5" fill="#28ecec"/>
<circle cx="659.7" cy="284.6" r="4.5" fill="#28ecec"/>
<circle cx="666.5" cy="285.5" r="4.5" fill="#28ecec"/>
<circle cx="666.5" cy="292.3" r="4.5" fill="#28ecec"/>
<circle cx="666.5" cy="298.1" r="4.5" fill="#28ecec"/>
<circle cx="707.1" cy="290.4" r="4.5" fill="#28ecec"/>
<circle cx="713.8" cy="287.5" r="4.5" fill="#28ecec"/>
<circle cx="721.6" cy="290.4" r="4.5" fill="#28ecec"/>
<circle cx="728.3" cy="289.4" r="4.5" fill="#28ecec"/>
<circle cx="735.1" cy="290.4" r="4.5" fill="#28ecec"/>
<circle cx="592.0" cy="292.3" r="4.5" fill="#28ecec"/>
<circle cx="592.0" cy="302.9" r="4.5" fill="#f2922a"/>
<circle cx="620.0" cy="298.1" r="4.5" fill="#28ecec"/>
<circle cx="639.4" cy="302.9" r="4.5" fill="#28ecec"/>
<circle cx="673.2" cy="300.0" r="4.5" fill="#f2922a"/>
<circle cx="660.7" cy="302.0" r="4.5" fill="#28ecec"/>
<circle cx="660.7" cy="307.8" r="4.5" fill="#28ecec"/>
<circle cx="666.5" cy="308.7" r="4.5" fill="#28ecec"/>
<circle cx="673.2" cy="311.6" r="4.5" fill="#28ecec"/>
<circle cx="700.3" cy="298.1" r="4.5" fill="#28ecec"/>
<circle cx="713.8" cy="297.1" r="4.5" fill="#28ecec"/>
<circle cx="686.8" cy="307.8" r="4.5" fill="#28ecec"/>
<circle cx="694.5" cy="308.7" r="4.5" fill="#28ecec"/>
<circle cx="707.1" cy="307.8" r="4.5" fill="#28ecec"/>
<circle cx="700.3" cy="313.6" r="4.5" fill="#28ecec"/>
<circle cx="700.3" cy="318.4" r="4.5" fill="#28ecec"/>
<circle cx="707.1" cy="318.4" r="4.5" fill="#f2922a"/>
<circle cx="721.6" cy="308.7" r="4.5" fill="#28ecec"/>
<circle cx="632.6" cy="315.5" r="4.5" fill="#28ecec"/>
<circle cx="660.7" cy="330.0" r="4.5" fill="#28ecec"/>
<circle cx="694.5" cy="328.1" r="4.5" fill="#28ecec"/>
<circle cx="728.3" cy="321.3" r="4.5" fill="#28ecec"/>
<circle cx="728.3" cy="331.0" r="4.5" fill="#28ecec"/>
<circle cx="728.3" cy="336.8" r="4.5" fill="#28ecec"/>
<circle cx="740.9" cy="332.9" r="4.5" fill="#28ecec"/>
<circle cx="626.8" cy="340.6" r="4.5" fill="#28ecec"/>
<circle cx="633.6" cy="339.7" r="4.5" fill="#28ecec"/>
<circle cx="660.7" cy="342.6" r="4.5" fill="#28ecec"/>
<circle cx="680.0" cy="341.6" r="4.5" fill="#28ecec"/>
<circle cx="700.3" cy="342.6" r="4.5" fill="#28ecec"/>
<circle cx="707.1" cy="340.6" r="4.5" fill="#28ecec"/>
<circle cx="727.4" cy="342.6" r="4.5" fill="#28ecec"/>
<circle cx="586.2" cy="346.0" r="4.5" fill="#f2922a"/>
<circle cx="748.9" cy="222.2" r="4.5" fill="#f2922a"/>
<circle cx="747.9" cy="230.0" r="4.5" fill="#28ecec"/>
<circle cx="761.5" cy="212.6" r="4.5" fill="#f2922a"/>
<circle cx="768.2" cy="216.4" r="4.5" fill="#28ecec"/>
<circle cx="775.0" cy="226.1" r="4.5" fill="#28ecec"/>
<circle cx="768.2" cy="227.1" r="4.5" fill="#f2922a"/>
<circle cx="781.8" cy="219.3" r="4.5" fill="#28ecec"/>
<circle cx="788.5" cy="213.5" r="4.5" fill="#28ecec"/>
<circle cx="795.3" cy="217.4" r="4.5" fill="#28ecec"/>
<circle cx="809.8" cy="213.5" r="4.5" fill="#28ecec"/>
<circle cx="815.6" cy="201.9" r="4.5" fill="#f2922a"/>
<circle cx="815.6" cy="213.5" r="4.5" fill="#28ecec"/>
<circle cx="822.4" cy="214.5" r="4.5" fill="#28ecec"/>
<circle cx="829.2" cy="205.8" r="4.5" fill="#28ecec"/>
<circle cx="836.9" cy="203.9" r="4.5" fill="#28ecec"/>
<circle cx="842.7" cy="214.5" r="4.5" fill="#28ecec"/>
<circle cx="848.5" cy="213.5" r="4.5" fill="#28ecec"/>
<circle cx="856.2" cy="219.3" r="4.5" fill="#28ecec"/>
<circle cx="862.0" cy="207.7" r="4.5" fill="#28ecec"/>
<circle cx="869.8" cy="219.3" r="4.5" fill="#28ecec"/>
<circle cx="877.5" cy="206.8" r="4.5" fill="#28ecec"/>
<circle cx="882.3" cy="220.3" r="4.5" fill="#28ecec"/>
<circle cx="890.1" cy="220.3" r="4.5" fill="#28ecec"/>
<circle cx="896.8" cy="222.2" r="4.5" fill="#28ecec"/>
<circle cx="910.4" cy="216.4" r="4.5" fill="#28ecec"/>
<circle cx="910.4" cy="223.2" r="4.5" fill="#28ecec"/>
<circle cx="862.0" cy="225.1" r="4.5" fill="#f2922a"/>
<circle cx="890.1" cy="226.1" r="4.5" fill="#f2922a"/>
<circle cx="877.5" cy="227.1" r="4.5" fill="#28ecec"/>
<circle cx="754.7" cy="235.8" r="4.5" fill="#28ecec"/>
<circle cx="761.5" cy="237.7" r="4.5" fill="#28ecec"/>
<circle cx="775.0" cy="241.6" r="4.5" fill="#28ecec"/>
<circle cx="781.8" cy="233.8" r="4.5" fill="#28ecec"/>
<circle cx="788.5" cy="238.7" r="4.5" fill="#28ecec"/>
<circle cx="795.3" cy="241.6" r="4.5" fill="#28ecec"/>
<circle cx="795.3" cy="247.4" r="4.5" fill="#28ecec"/>
<circle cx="802.1" cy="230.9" r="4.5" fill="#28ecec"/>
<circle cx="815.6" cy="231.9" r="4.5" fill="#28ecec"/>
<circle cx="815.6" cy="227.1" r="4.5" fill="#f2922a"/>
<circle cx="822.4" cy="225.1" r="4.5" fill="#f2922a"/>
<circle cx="829.2" cy="230.9" r="4.5" fill="#28ecec"/>
<circle cx="836.9" cy="229.0" r="4.5" fill="#28ecec"/>
<circle cx="836.9" cy="241.6" r="4.5" fill="#28ecec"/>
<circle cx="829.2" cy="237.7" r="4.5" fill="#f2922a"/>
<circle cx="842.7" cy="238.7" r="4.5" fill="#28ecec"/>
<circle cx="850.4" cy="231.9" r="4.5" fill="#f2922a"/>
<circle cx="856.2" cy="229.0" r="4.5" fill="#28ecec"/>
<circle cx="856.2" cy="239.6" r="4.5" fill="#28ecec"/>
<circle cx="862.0" cy="242.5" r="4.5" fill="#28ecec"/>
<circle cx="848.5" cy="248.3" r="4.5" fill="#f2922a"/>
<circle cx="856.2" cy="251.2" r="4.5" fill="#f2922a"/>
<circle cx="856.2" cy="257.0" r="4.5" fill="#28ecec"/>
<circle cx="863.0" cy="254.1" r="4.5" fill="#f2922a"/>
<circle cx="754.7" cy="254.1" r="4.5" fill="#28ecec"/>
<circle cx="761.5" cy="251.2" r="4.5" fill="#28ecec"/>
<circle cx="768.2" cy="246.4" r="4.5" fill="#28ecec"/>
<circle cx="775.0" cy="249.3" r="4.5" fill="#28ecec"/>
<circle cx="775.0" cy="257.0" r="4.5" fill="#28ecec"/>
<circle cx="768.2" cy="262.9" r="4.5" fill="#28ecec"/>
<circle cx="761.5" cy="259.9" r="4.5" fill="#28ecec"/>
<circle cx="754.7" cy="262.9" r="4.5" fill="#f2922a"/>
<circle cx="754.7" cy="273.5" r="4.5" fill="#28ecec"/>
<circle cx="761.5" cy="271.6" r="4.5" fill="#28ecec"/>
<circle cx="761.5" cy="279.3" r="4.5" fill="#28ecec"/>
<circle cx="754.7" cy="281.2" r="4.5" fill="#28ecec"/>
<circle cx="754.7" cy="290.9" r="4.5" fill="#28ecec"/>
<circle cx="761.5" cy="290.9" r="4.5" fill="#28ecec"/>
<circle cx="769.2" cy="294.8" r="4.5" fill="#28ecec"/>
<circle cx="775.0" cy="297.7" r="4.5" fill="#f2922a"/>
<circle cx="754.7" cy="305.4" r="4.5" fill="#28ecec"/>
<circle cx="754.7" cy="312.2" r="4.5" fill="#28ecec"/>
<circle cx="788.5" cy="256.1" r="4.5" fill="#28ecec"/>
<circle cx="788.5" cy="272.5" r="4.5" fill="#28ecec"/>
<circle cx="802.1" cy="275.4" r="4.5" fill="#28ecec"/>
<circle cx="807.9" cy="266.7" r="4.5" fill="#28ecec"/>
<circle cx="807.9" cy="249.9" r="4.5" fill="#f2922a"/>
<circle cx="822.4" cy="254.1" r="4.5" fill="#28ecec"/>
<circle cx="822.4" cy="267.7" r="4.5" fill="#28ecec"/>
<circle cx="835.9" cy="254.1" r="4.5" fill="#f2922a"/>
<circle cx="835.9" cy="270.6" r="4.5" fill="#28ecec"/>
<circle cx="842.7" cy="268.7" r="4.5" fill="#f2922a"/>
<circle cx="848.5" cy="278.3" r="4.5" fill="#28ecec"/>
<circle cx="856.2" cy="274.5" r="4.5" fill="#f2922a"/>
<circle cx="863.0" cy="280.3" r="4.5" fill="#28ecec"/>
<circle cx="807.9" cy="289.0" r="4.5" fill="#28ecec"/>
<circle cx="835.9" cy="302.5" r="4.5" fill="#28ecec"/>
<circle cx="863.0" cy="293.8" r="4.5" fill="#28ecec"/>
<circle cx="863.0" cy="304.4" r="4.5" fill="#28ecec"/>
<circle cx="849.5" cy="317.0" r="4.5" fill="#28ecec"/>
<circle cx="849.5" cy="328.6" r="4.5" fill="#28ecec"/>
<circle cx="863.0" cy="322.8" r="4.5" fill="#f2922a"/>
<circle cx="869.8" cy="327.6" r="4.5" fill="#f2922a"/>
<circle cx="876.5" cy="255.1" r="4.5" fill="#f2922a"/>
<circle cx="876.5" cy="270.6" r="4.5" fill="#f2922a"/>
<circle cx="882.3" cy="239.6" r="4.5" fill="#f2922a"/>
<circle cx="890.1" cy="253.2" r="4.5" fill="#f2922a"/>
<circle cx="890.1" cy="276.4" r="4.5" fill="#f2922a"/>
<circle cx="895.9" cy="268.7" r="4.5" fill="#f2922a"/>
<circle cx="903.6" cy="239.6" r="4.5" fill="#f2922a"/>
<circle cx="903.6" cy="243.5" r="4.5" fill="#f2922a"/>
<circle cx="910.4" cy="254.1" r="4.5" fill="#f2922a"/>
<circle cx="916.2" cy="258.0" r="4.5" fill="#f2922a"/>
<circle cx="903.6" cy="289.0" r="4.5" fill="#f2922a"/>
<circle cx="882.3" cy="290.9" r="4.5" fill="#f2922a"/>
<circle cx="876.5" cy="298.6" r="4.5" fill="#f2922a"/>
<circle cx="883.3" cy="299.6" r="4.5" fill="#f2922a"/>
<circle cx="890.1" cy="301.5" r="4.5" fill="#f2922a"/>
<circle cx="916.2" cy="307.3" r="4.5" fill="#f2922a"/>
<circle cx="903.6" cy="323.8" r="4.5" fill="#f2922a"/>
<circle cx="579.4" cy="355.1" r="4.5" fill="#f2922a"/>
<circle cx="626.8" cy="354.2" r="4.5" fill="#28ecec"/>
<circle cx="660.7" cy="349.3" r="4.5" fill="#28ecec"/>
<circle cx="728.3" cy="355.1" r="4.5" fill="#28ecec"/>
<circle cx="707.1" cy="404.5" r="4.5" fill="#28ecec"/>
<circle cx="707.1" cy="435.4" r="4.5" fill="#28ecec"/>
<circle cx="680.6" cy="450.9" r="4.5" fill="#f2922a"/>
<circle cx="761.9" cy="337.0" r="4.5" fill="#28ecec"/>
<circle cx="754.7" cy="436.4" r="4.5" fill="#28ecec"/>
<circle cx="848.5" cy="320.0" r="4.5" fill="#28ecec"/>
<circle cx="856.2" cy="332.6" r="4.5" fill="#28ecec"/>
<circle cx="863.0" cy="327.7" r="4.5" fill="#28ecec"/>
<circle cx="856.2" cy="337.0" r="4.5" fill="#28ecec"/>
<circle cx="863.0" cy="337.0" r="4.5" fill="#28ecec"/>
<circle cx="910.4" cy="338.4" r="4.5" fill="#f2922a"/>
<circle cx="896.8" cy="342.8" r="4.5" fill="#f2922a"/>
<circle cx="680.6" cy="477.5" r="4.5" fill="#28ecec"/>
<circle cx="653.9" cy="541.7" r="4.5" fill="#f2922a"/>
<circle cx="653.9" cy="552.9" r="4.5" fill="#28ecec"/>
<circle cx="680.6" cy="552.9" r="4.5" fill="#28ecec"/>
<circle cx="733.6" cy="234.9" r="4.5" fill="#28ecec"/>
<circle cx="787.4" cy="226.2" r="4.5" fill="#28ecec"/>
<circle cx="694.4" cy="248.0" r="4.5" fill="#28ecec"/>
<circle cx="733.6" cy="255.2" r="4.5" fill="#28ecec"/>
<circle cx="783.0" cy="246.5" r="4.5" fill="#28ecec"/>
<circle cx="714.0" cy="265.4" r="4.5" fill="#28ecec"/>
<circle cx="727.8" cy="264.0" r="4.5" fill="#28ecec"/>
<circle cx="768.5" cy="268.3" r="4.5" fill="#28ecec"/>
<circle cx="762.7" cy="271.2" r="4.5" fill="#f2922a"/>
<circle cx="740.9" cy="274.1" r="4.5" fill="#28ecec"/>
<circle cx="748.1" cy="272.7" r="4.5" fill="#28ecec"/>
<circle cx="720.5" cy="287.2" r="4.5" fill="#28ecec"/>
<circle cx="578.5" cy="172.3" r="4.5" fill="#28ecec"/>
<circle cx="599.4" cy="221.2" r="4.5" fill="#28ecec"/>
<circle cx="592.4" cy="229.3" r="4.5" fill="#f2922a"/>
<circle cx="620.3" cy="211.9" r="4.5" fill="#28ecec"/>
<circle cx="633.1" cy="237.4" r="4.5" fill="#28ecec"/>
</g>
<path d="M579.8,155.6 C581.6,159.2 586.4,169.6 590.9,177.1 C595.4,184.6 601.5,193.0 606.5,200.5 C611.5,207.9 616.1,215.4 621.0,222.0 C625.9,228.6 630.8,234.4 636.0,240.1 C641.2,245.8 647.2,252.2 652.5,256.4 C657.8,260.6 662.2,263.0 667.7,265.1 C673.2,267.2 680.7,268.6 685.2,269.3 C689.8,270.1 691.7,269.7 695.0,269.6 C698.3,269.6 701.7,269.7 705.0,269.0 C708.3,268.3 711.5,266.9 715.0,265.5 C718.5,264.1 722.5,262.2 726.3,260.4 C730.0,258.6 733.9,256.4 737.5,254.5 C741.1,252.6 744.4,251.5 748.1,248.8 C751.8,246.1 755.9,241.9 759.8,238.5 C763.7,235.1 767.1,231.1 771.4,228.2 C775.7,225.3 780.2,223.2 785.4,221.1 C790.6,219.1 797.0,217.2 802.8,215.7 C808.6,214.1 814.5,213.7 820.3,212.0 C826.1,210.3 831.9,207.9 837.7,205.5 C843.5,203.1 849.4,200.5 855.2,197.5 C861.0,194.5 866.8,191.2 872.6,187.6 C878.4,184.1 884.3,180.3 890.1,176.2 C895.9,172.1 903.3,166.4 907.5,162.9 C911.7,159.5 913.9,156.7 915.2,155.4 L915.2,175.4 C913.9,176.4 911.7,178.9 907.5,181.9 C903.3,184.8 895.9,189.6 890.1,193.0 C884.3,196.4 878.4,199.5 872.6,202.4 C866.8,205.2 861.0,207.6 855.2,210.1 C849.4,212.6 843.5,215.1 837.7,217.3 C831.9,219.5 826.1,221.8 820.3,223.4 C814.5,225.0 808.6,225.3 802.8,226.7 C797.0,228.1 790.6,229.9 785.4,231.9 C780.2,233.8 775.7,235.8 771.4,238.6 C767.1,241.4 763.7,245.3 759.8,248.7 C755.9,252.1 751.8,256.2 748.1,258.8 C744.4,261.4 741.1,262.6 737.5,264.5 C733.9,266.4 730.0,268.6 726.3,270.4 C722.5,272.2 718.5,274.1 715.0,275.5 C711.5,276.9 708.3,278.3 705.0,279.0 C701.7,279.7 698.3,279.6 695.0,279.6 C691.7,279.7 689.8,280.1 685.2,279.3 C680.7,278.6 673.2,277.2 667.7,275.1 C662.2,273.0 657.8,270.4 652.5,266.4 C647.2,262.4 641.2,256.6 636.0,251.3 C630.8,246.0 625.9,240.6 621.0,234.4 C616.1,228.2 611.5,221.2 606.5,214.1 C601.5,207.1 595.4,199.2 590.9,192.1 C586.4,185.0 581.6,175.0 579.8,171.6 Z" fill="#28ecec" fill-opacity="0.4" stroke="none"/>
<path d="M579.8,163.6 C581.6,167.1 586.4,177.3 590.9,184.6 C595.4,191.9 601.5,200.0 606.5,207.3 C611.5,214.6 616.1,221.8 621.0,228.2 C625.9,234.6 630.8,240.2 636.0,245.7 C641.2,251.2 647.2,257.3 652.5,261.4 C657.8,265.5 662.2,268.0 667.7,270.1 C673.2,272.2 680.7,273.6 685.2,274.3 C689.8,275.1 691.7,274.7 695.0,274.6 C698.3,274.6 701.7,274.7 705.0,274.0 C708.3,273.3 711.5,271.9 715.0,270.5 C718.5,269.1 722.5,267.2 726.3,265.4 C730.0,263.6 733.9,261.4 737.5,259.5 C741.1,257.6 744.4,256.4 748.1,253.8 C751.8,251.2 755.9,247.0 759.8,243.6 C763.7,240.2 767.1,236.2 771.4,233.4 C775.7,230.6 780.2,228.5 785.4,226.5 C790.6,224.5 797.0,222.7 802.8,221.2 C808.6,219.7 814.5,219.3 820.3,217.7 C826.1,216.1 831.9,213.7 837.7,211.4 C843.5,209.1 849.4,206.5 855.2,203.8 C861.0,201.1 866.8,198.2 872.6,195.0 C878.4,191.8 884.3,188.4 890.1,184.6 C895.9,180.8 903.3,175.6 907.5,172.4 C911.7,169.2 913.9,166.6 915.2,165.4" fill="none" stroke="#1010e8" stroke-width="3.4"/>
<path d="M579.8,210.9 C581.6,211.0 586.7,212.2 590.9,212.0 C595.1,211.8 600.2,210.6 604.9,209.6 C609.5,208.5 614.1,206.8 618.8,205.6 C623.4,204.4 627.5,204.1 632.8,202.5 C638.0,200.9 644.5,198.2 650.3,196.3 C656.1,194.4 661.9,192.8 667.7,191.0 C673.5,189.2 679.4,187.4 685.2,185.8 C691.0,184.2 696.8,182.8 702.6,181.3 C708.4,179.8 714.3,178.4 720.1,177.1 C725.9,175.8 732.4,174.6 737.5,173.8 C742.6,173.0 745.4,172.3 750.5,172.2 C755.6,172.2 762.1,172.7 767.9,173.6 C773.7,174.5 779.6,175.9 785.4,177.8 C791.2,179.7 797.0,182.2 802.8,184.8 C808.6,187.4 814.5,190.5 820.3,193.5 C826.1,196.5 831.9,199.2 837.7,202.9 C843.5,206.6 849.4,211.6 855.2,215.9 C861.0,220.3 866.8,224.7 872.6,229.1 C878.4,233.4 884.3,238.3 890.1,242.1 C895.9,245.8 903.3,249.1 907.5,251.5 C911.7,254.0 913.9,255.8 915.2,256.7 L915.2,307.9 C913.9,305.9 911.7,302.0 907.5,295.7 C903.3,289.4 895.9,276.9 890.1,270.1 C884.3,263.4 878.4,260.3 872.6,255.3 C866.8,250.4 861.0,245.2 855.2,240.5 C849.4,235.7 843.5,230.7 837.7,226.9 C831.9,223.1 826.1,220.5 820.3,217.5 C814.5,214.5 808.6,211.4 802.8,208.8 C797.0,206.2 791.2,203.7 785.4,201.8 C779.6,199.9 773.7,198.6 767.9,197.6 C762.1,196.6 755.6,195.9 750.5,195.8 C745.4,195.6 742.6,196.1 737.5,196.6 C732.4,197.2 725.9,198.0 720.1,199.1 C714.3,200.2 708.4,201.9 702.6,203.3 C696.8,204.7 691.0,206.2 685.2,207.8 C679.4,209.4 673.5,211.2 667.7,213.0 C661.9,214.8 656.1,216.4 650.3,218.3 C644.5,220.2 638.0,222.0 632.8,224.5 C627.5,227.0 623.4,230.2 618.8,233.4 C614.1,236.5 609.5,239.3 604.9,243.4 C600.2,247.6 595.1,254.0 590.9,258.4 C586.7,262.8 581.6,268.0 579.8,269.9 Z" fill="#f2922a" fill-opacity="0.4" stroke="none"/>
<path d="M579.8,240.4 C581.6,239.5 586.7,237.5 590.9,235.2 C595.1,232.9 600.2,229.1 604.9,226.5 C609.5,223.9 614.1,221.7 618.8,219.5 C623.4,217.3 627.5,215.5 632.8,213.5 C638.0,211.5 644.5,209.2 650.3,207.3 C656.1,205.4 661.9,203.8 667.7,202.0 C673.5,200.2 679.4,198.4 685.2,196.8 C691.0,195.2 696.8,193.8 702.6,192.3 C708.4,190.9 714.3,189.3 720.1,188.1 C725.9,186.9 732.4,185.9 737.5,185.2 C742.6,184.5 745.4,183.9 750.5,184.0 C755.6,184.1 762.1,184.6 767.9,185.6 C773.7,186.6 779.6,187.9 785.4,189.8 C791.2,191.7 797.0,194.2 802.8,196.8 C808.6,199.4 814.5,202.5 820.3,205.5 C826.1,208.5 831.9,211.1 837.7,214.9 C843.5,218.7 849.4,223.6 855.2,228.2 C861.0,232.8 866.8,237.5 872.6,242.2 C878.4,246.8 884.3,250.9 890.1,256.1 C895.9,261.3 903.3,269.2 907.5,273.6 C911.7,278.0 913.9,280.9 915.2,282.3" fill="none" stroke="#f01010" stroke-width="3.4"/>
<circle cx="802.9" cy="502.2" r="6.5" fill="#28ecec" stroke="#111" stroke-width="1.3"/>
<circle cx="804.3" cy="535.8" r="6.5" fill="#f2922a" stroke="#111" stroke-width="1.3"/>
<text transform="translate(819.66,505.31) scale(1.2106,1)" font-size="19.47" font-weight="700" fill="#000">euphotic</text>
<text transform="translate(819.30,539.97) scale(1.1311,1)" font-size="20.64" font-weight="700" fill="#000">aphotic</text>
<rect x="123.7" y="12.7" width="371.8" height="58.5" fill="#d6d6d6" stroke="#000" stroke-width="1.6"/>
<rect x="125.2" y="14.2" width="368.8" height="55.5" fill="none" stroke="#fff" stroke-width="1"/>
<text transform="translate(258.86,53.67) scale(1.0047,1)" font-size="32.65" font-weight="400" fill="#000">Chao1</text>
<rect x="564.5" y="11.3" width="370.4" height="58.7" fill="#d6d6d6" stroke="#000" stroke-width="1.6"/>
<rect x="566.0" y="12.8" width="367.4" height="55.7" fill="none" stroke="#fff" stroke-width="1"/>
<text transform="translate(680.49,52.67) scale(1.0300,1)" font-size="32.65" font-weight="400" fill="#000">Shannon</text>
<line x1="141" y1="578" x2="141" y2="584.5" stroke="#000" stroke-width="1.4"/>
<text transform="translate(147.02,629.92) rotate(-90) scale(0.9955,1)" font-size="28.43" font-weight="400" fill="#000">Jan</text>
<line x1="172" y1="578" x2="172" y2="584.5" stroke="#000" stroke-width="1.4"/>
<text transform="translate(178.41,634.27) rotate(-90) scale(0.9931,1)" font-size="28.57" font-weight="400" fill="#000">Feb</text>
<line x1="201.7" y1="578" x2="201.7" y2="584.5" stroke="#000" stroke-width="1.4"/>
<text transform="translate(209.72,641.24) rotate(-90) scale(1.1661,1)" font-size="28.29" font-weight="400" fill="#000">Mar</text>
<line x1="232.7" y1="578" x2="232.7" y2="584.5" stroke="#000" stroke-width="1.4"/>
<text transform="translate(237.82,632.00) rotate(-90) scale(1.0365,1)" font-size="29.44" font-weight="400" fill="#000">Apr</text>
<line x1="262.4" y1="578" x2="262.4" y2="584.5" stroke="#000" stroke-width="1.4"/>
<text transform="translate(268.32,644.52) rotate(-90) scale(1.0695,1)" font-size="29.44" font-weight="400" fill="#000">May</text>
<line x1="293" y1="578" x2="293" y2="584.5" stroke="#000" stroke-width="1.4"/>
<text transform="translate(298.02,629.95) rotate(-90) scale(1.0514,1)" font-size="28.29" font-weight="400" fill="#000">Jun</text>
<line x1="323.4" y1="578" x2="323.4" y2="584.5" stroke="#000" stroke-width="1.4"/>
<text transform="translate(331.70,621.76) rotate(-90) scale(1.0242,1)" font-size="29.66" font-weight="400" fill="#000">Jul</text>
<line x1="354.4" y1="578" x2="354.4" y2="584.5" stroke="#000" stroke-width="1.4"/>
<text transform="translate(358.30,636.40) rotate(-90) scale(0.9971,1)" font-size="30.00" font-weight="400" fill="#000">Aug</text>
<line x1="383.6" y1="578" x2="383.6" y2="584.5" stroke="#000" stroke-width="1.4"/>
<text transform="translate(390.25,635.44) rotate(-90) scale(0.9697,1)" font-size="28.35" font-weight="400" fill="#000">Sep</text>
<line x1="414.5" y1="578" x2="414.5" y2="584.5" stroke="#000" stroke-width="1.4"/>
<text transform="translate(423.90,633.85) rotate(-90) scale(0.9986,1)" font-size="30.14" font-weight="400" fill="#000">Oct</text>
<line x1="445" y1="578" x2="445" y2="584.5" stroke="#000" stroke-width="1.4"/>
<text transform="translate(454.00,639.98) rotate(-90) scale(1.0324,1)" font-size="30.00" font-weight="400" fill="#000">Nov</text>
<line x1="472.8" y1="578" x2="472.8" y2="584.5" stroke="#000" stroke-width="1.4"/>
<text transform="translate(482.58,637.79) rotate(-90) scale(0.8977,1)" font-size="31.86" font-weight="400" fill="#000">Dec</text>
<line x1="583.4" y1="575.0" x2="583.4" y2="581.5" stroke="#000" stroke-width="1.4"/>
<text transform="translate(589.51,627.42) rotate(-90) scale(0.9739,1)" font-size="28.86" font-weight="400" fill="#000">Jan</text>
<line x1="613.6" y1="575.0" x2="613.6" y2="581.5" stroke="#000" stroke-width="1.4"/>
<text transform="translate(621.20,631.75) rotate(-90) scale(0.9483,1)" font-size="29.66" font-weight="400" fill="#000">Feb</text>
<line x1="643.6" y1="575.0" x2="643.6" y2="581.5" stroke="#000" stroke-width="1.4"/>
<text transform="translate(651.42,638.33) rotate(-90) scale(1.1161,1)" font-size="28.29" font-weight="400" fill="#000">Mar</text>
<line x1="674.6" y1="575.0" x2="674.6" y2="581.5" stroke="#000" stroke-width="1.4"/>
<text transform="translate(679.63,632.00) rotate(-90) scale(1.0844,1)" font-size="28.44" font-weight="400" fill="#000">Apr</text>
<line x1="704" y1="575.0" x2="704" y2="581.5" stroke="#000" stroke-width="1.4"/>
<text transform="translate(710.65,641.83) rotate(-90) scale(1.0036,1)" font-size="30.22" font-weight="400" fill="#000">May</text>
<line x1="734" y1="575.0" x2="734" y2="581.5" stroke="#000" stroke-width="1.4"/>
<text transform="translate(739.81,627.83) rotate(-90) scale(0.9970,1)" font-size="28.71" font-weight="400" fill="#000">Jun</text>
<line x1="764.8" y1="575.0" x2="764.8" y2="581.5" stroke="#000" stroke-width="1.4"/>
<text transform="translate(773.41,620.45) rotate(-90) scale(1.0184,1)" font-size="29.25" font-weight="400" fill="#000">Jul</text>
<line x1="796" y1="575.0" x2="796" y2="581.5" stroke="#000" stroke-width="1.4"/>
<text transform="translate(799.93,634.80) rotate(-90) scale(1.0434,1)" font-size="28.44" font-weight="400" fill="#000">Aug</text>
<line x1="825.2" y1="575.0" x2="825.2" y2="581.5" stroke="#000" stroke-width="1.4"/>
<text transform="translate(832.19,634.44) rotate(-90) scale(0.9794,1)" font-size="28.13" font-weight="400" fill="#000">Sep</text>
<line x1="856.2" y1="575.0" x2="856.2" y2="581.5" stroke="#000" stroke-width="1.4"/>
<text transform="translate(865.40,631.84) rotate(-90) scale(0.9922,1)" font-size="30.00" font-weight="400" fill="#000">Oct</text>
<line x1="886.8" y1="575.0" x2="886.8" y2="581.5" stroke="#000" stroke-width="1.4"/>
<text transform="translate(896.29,638.24) rotate(-90) scale(0.9885,1)" font-size="30.86" font-weight="400" fill="#000">Nov</text>
<line x1="915.5" y1="575.0" x2="915.5" y2="581.5" stroke="#000" stroke-width="1.4"/>
<text transform="translate(924.20,635.38) rotate(-90) scale(0.9493,1)" font-size="30.00" font-weight="400" fill="#000">Dec</text>
<line x1="115.8" y1="74.8" x2="122.3" y2="74.8" stroke="#000" stroke-width="1.4"/>
<text transform="translate(60.82,94.32) scale(1.0809,1)" font-size="28.31" font-weight="400" fill="#000">800</text>
<line x1="115.8" y1="204.9" x2="122.3" y2="204.9" stroke="#000" stroke-width="1.4"/>
<text transform="translate(60.67,224.42) scale(1.0843,1)" font-size="28.31" font-weight="400" fill="#000">600</text>
<line x1="115.8" y1="335.4" x2="122.3" y2="335.4" stroke="#000" stroke-width="1.4"/>
<text transform="translate(61.60,354.92) scale(1.0641,1)" font-size="28.31" font-weight="400" fill="#000">400</text>
<line x1="115.8" y1="466.1" x2="122.3" y2="466.1" stroke="#000" stroke-width="1.4"/>
<text transform="translate(60.67,485.62) scale(1.0843,1)" font-size="28.31" font-weight="400" fill="#000">200</text>
<line x1="556.3" y1="90" x2="562.8" y2="90" stroke="#000" stroke-width="1.4"/>
<text transform="translate(535.10,109.72) scale(1.0697,1)" font-size="28.14" font-weight="400" fill="#000">5</text>
<line x1="556.3" y1="218.8" x2="562.8" y2="218.8" stroke="#000" stroke-width="1.4"/>
<text transform="translate(535.73,238.80) scale(0.9918,1)" font-size="28.55" font-weight="400" fill="#000">4</text>
<line x1="556.3" y1="348.5" x2="562.8" y2="348.5" stroke="#000" stroke-width="1.4"/>
<text transform="translate(535.10,368.22) scale(1.0850,1)" font-size="27.75" font-weight="400" fill="#000">3</text>
<line x1="556.3" y1="478.2" x2="562.8" y2="478.2" stroke="#000" stroke-width="1.4"/>
<text transform="translate(534.73,498.20) scale(1.1168,1)" font-size="28.14" font-weight="400" fill="#000">2</text>
<text transform="translate(66.68,50.35) scale(0.7977,1)" font-size="44.55" font-weight="400" fill="#000" stroke="#000" stroke-width="0.5">a</text>
<text transform="translate(516.71,52.31) scale(0.9709,1)" font-size="48.98" font-weight="400" fill="#000">b</text>
<text transform="translate(36.73,538.98) rotate(-90) scale(1.0348,1)" font-size="37.97" font-weight="700" fill="#000">Alpha Diversity Measure</text>
<rect x="124.8" y="647" width="56.500000000000014" height="12.3" fill="#1a78d6" stroke="#1a1a1a" stroke-width="1.4"/>
<text transform="translate(124.70,676.34) scale(1.2442,1)" font-size="16.33" font-weight="400" fill="#000">Winter</text>
<rect x="186.8" y="647" width="85.5" height="12.3" fill="#5fb818" stroke="#1a1a1a" stroke-width="1.4"/>
<text transform="translate(198.43,676.91) scale(1.1288,1)" font-size="17.11" font-weight="400" fill="#000">Spring</text>
<rect x="278" y="647" width="88.5" height="12.3" fill="#e6d812" stroke="#1a1a1a" stroke-width="1.4"/>
<text transform="translate(286.73,676.73) scale(1.1404,1)" font-size="17.04" font-weight="400" fill="#000">Summer</text>
<rect x="370.7" y="647" width="86.0" height="12.3" fill="#c8601e" stroke="#1a1a1a" stroke-width="1.4"/>
<text transform="translate(380.60,676.33) scale(1.1770,1)" font-size="17.14" font-weight="400" fill="#000">Autumn</text>
<rect x="460.7" y="647" width="30.69999999999999" height="12.3" fill="#1a78d6" stroke="#1a1a1a" stroke-width="1.4"/>
<text transform="translate(459.90,676.34) scale(1.2400,1)" font-size="16.33" font-weight="400" fill="#000">Winter</text>
<rect x="567.3" y="645" width="56.30000000000007" height="12.3" fill="#1a78d6" stroke="#1a1a1a" stroke-width="1.4"/>
<text transform="translate(566.70,674.84) scale(1.2293,1)" font-size="16.33" font-weight="400" fill="#000">Winter</text>
<rect x="628.8" y="645" width="86.0" height="12.3" fill="#5fb818" stroke="#1a1a1a" stroke-width="1.4"/>
<text transform="translate(640.09,675.02) scale(1.2151,1)" font-size="16.58" font-weight="400" fill="#000">Spring</text>
<rect x="719.8" y="645" width="88.80000000000007" height="12.3" fill="#e6d812" stroke="#1a1a1a" stroke-width="1.4"/>
<text transform="translate(729.63,674.83) scale(1.1387,1)" font-size="16.90" font-weight="400" fill="#000">Summer</text>
<rect x="812.3" y="645" width="86.30000000000007" height="12.3" fill="#c8601e" stroke="#1a1a1a" stroke-width="1.4"/>
<text transform="translate(822.00,674.83) scale(1.1908,1)" font-size="17.14" font-weight="400" fill="#000">Autumn</text>
<rect x="902.3" y="645" width="31.0" height="12.3" fill="#1a78d6" stroke="#1a1a1a" stroke-width="1.4"/>
<text transform="translate(902.70,674.84) scale(1.2720,1)" font-size="16.33" font-weight="400" fill="#000">Winter</text>
<rect x="122.3" y="71.5" width="372.9" height="506.5" fill="none" stroke="#000" stroke-width="1.6"/>
<rect x="562.8" y="70.2" width="370.70000000000005" height="504.8" fill="none" stroke="#000" stroke-width="1.6"/>
<path d="M248,559.5 L257.4,569.6 L253.1,569.6 L253.1,593.6 L242.9,593.6 L242.9,569.6 L238.6,569.6 Z" fill="#ffc000" stroke="#1a1a1a" stroke-width="1.3" stroke-linejoin="miter"/>
<path d="M417.9,537.3 L427.4,547.1 L423.29999999999995,547.1 L423.29999999999995,570 L412.5,570 L412.5,547.1 L408.4,547.1 Z" fill="#ffc000" stroke="#1a1a1a" stroke-width="1.3" stroke-linejoin="miter"/>
<path d="M689.7,559.1 L698.2,567.8 L694.6,567.8 L694.6,590.8 L684.8000000000001,590.8 L684.8000000000001,567.8 L681.2,567.8 Z" fill="#ffc000" stroke="#1a1a1a" stroke-width="1.3" stroke-linejoin="miter"/>
<path d="M856.8,355.8 L866.0,365.4 L861.8,365.4 L861.8,387.7 L851.8,387.7 L851.8,365.4 L847.5999999999999,365.4 Z" fill="#ffc000" stroke="#1a1a1a" stroke-width="1.3" stroke-linejoin="miter"/>
</svg></body></html>
